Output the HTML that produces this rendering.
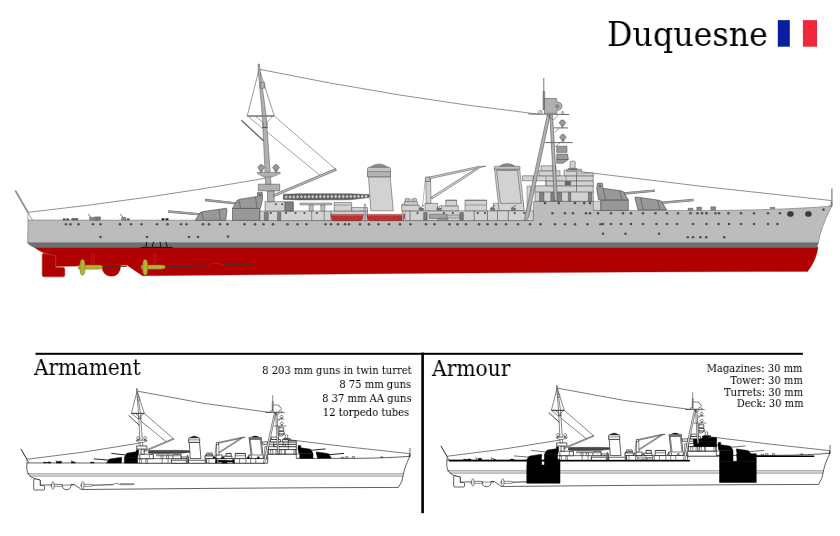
<!DOCTYPE html>
<html><head><meta charset="utf-8"><title>Duquesne</title>
<style>
html,body{margin:0;padding:0;background:#fff;}
body{width:840px;height:536px;position:relative;overflow:hidden;font-family:"DejaVu Serif","Liberation Serif",serif;color:#000;}
svg{position:absolute;left:0;top:0;}
.t{position:absolute;white-space:nowrap;line-height:1;will-change:transform;-webkit-font-smoothing:antialiased;}
.t{transform:scaleX(0.908);transform-origin:0 0;}
.r{transform-origin:100% 0;font-size:11px;}
#title{left:607px;top:16.9px;font-size:34px;transform:scaleX(0.933);}
#h1{left:33.9px;top:357.1px;font-size:22px;transform:scaleX(0.909);}
#h2{left:432px;top:358.4px;font-size:22px;transform:scaleX(0.92);}
</style></head><body>
<svg width="840" height="536" viewBox="0 0 840 536">
<rect width="840" height="536" fill="#fff"/>
<rect x="777.8" y="20.1" width="12" height="26.6" fill="#0a1ea0"/>
<rect x="802.9" y="20.1" width="14.1" height="26.6" fill="#f0283c"/>
<rect x="35.5" y="352.8" width="767.4" height="2" fill="#000"/>
<rect x="421.3" y="352.6" width="2.6" height="160.6" fill="#000"/>
<g><path d="M28.3 212.3 Q146.7 199.3 265 178.300" fill="none" stroke="#606060" stroke-width="0.70" stroke-linejoin="round"/>
<path d="M259.9 69.4 Q399 98 538.5 114.2" fill="none" stroke="#606060" stroke-width="0.70" stroke-linejoin="round"/>
<path d="M580.7 171.7 Q706.5 187.6 831.7 200.6" fill="none" stroke="#606060" stroke-width="0.70" stroke-linejoin="round"/>
<path d="M34 247 L818 247 Q816.5 260 807.6 271.4 L640 272 L400 273.5 L200 275.3 L142.5 275.8 L127 265.2 L120.8 265.2 Q120.3 276.2 111.2 276.2 Q102.2 276.2 101.7 265.6 L55.8 266.6 L55.8 256 L43 252.6 Q38 250.5 34 247 Z" fill="#b00000" stroke="#900000" stroke-width="0.30" stroke-linejoin="round"/>
<path d="M44.2 253.3 L55.8 255.8 L55.8 267.5 L63 267.5 Q64.8 267.5 64.8 269.3 L64.8 275 Q64.8 276.8 63 276.8 L44.2 276.8 Q42.2 276.8 42.2 274.8 L42.2 255.3 Q42.2 253.3 44.2 253.3 Z" fill="#b00000" stroke="#c86060" stroke-width="0.50" stroke-linejoin="round"/>
<path d="M44.2 253.3 L55.8 255.8 L55.8 267.5 L63 267.5 Q64.8 267.5 64.8 269.3 L64.8 275 Q64.8 276.8 63 276.8 L44.2 276.8 Q42.2 276.8 42.2 274.8 L42.2 255.3 Q42.2 253.3 44.2 253.3 Z" fill="none" stroke="#900000" stroke-width="0.30" stroke-linejoin="round"/>
<polygon points="91.6,254.0 94.4,254.0 94.4,265.5 91.6,265.5" fill="#b80808" stroke="#d04040" stroke-width="0.30" stroke-linejoin="round"/>
<polygon points="153.4,254.0 156.2,254.0 156.2,265.5 153.4,265.5" fill="#b80808" stroke="#d04040" stroke-width="0.30" stroke-linejoin="round"/>
<path d="M28 220 L527 220.5 Q533.3 219 533.3 212 L533.3 201.5 L594 201.5 L594 210.6 L720 210.4 Q790 209.6 831.9 206 Q820.5 228 818.3 243 L27.6 243 Z" fill="#bcbcbc" stroke="#444444" stroke-width="0.40" stroke-linejoin="round"/>
<path d="M27.5 242.8 L818.6 242.8 Q817.5 245 816.8 247.8 L36 247.8 Q29.5 246.5 27.500 242.8 Z" fill="#6c7070" stroke="#6c7070" stroke-width="0.20" stroke-linejoin="round"/>
<line x1="140.8" y1="247.4" x2="172.5" y2="247.4" stroke="#151515" stroke-width="1.00" stroke-linecap="butt"/>
<line x1="145.8" y1="247.0" x2="146.8" y2="241.8" stroke="#151515" stroke-width="1.00" stroke-linecap="butt"/>
<line x1="152.2" y1="247.0" x2="153.5" y2="241.8" stroke="#151515" stroke-width="1.00" stroke-linecap="butt"/>
<line x1="161.0" y1="247.0" x2="160.0" y2="241.8" stroke="#151515" stroke-width="1.00" stroke-linecap="butt"/>
<line x1="167.3" y1="247.0" x2="165.8" y2="241.8" stroke="#151515" stroke-width="1.00" stroke-linecap="butt"/>
<line x1="102.0" y1="266.6" x2="127.0" y2="266.3" stroke="#5a2528" stroke-width="1.00" stroke-linecap="butt"/>
<line x1="165.0" y1="266.8" x2="208.5" y2="265.6" stroke="#5a2528" stroke-width="1.60" stroke-linecap="butt"/>
<polygon points="224.0,263.6 250.0,263.6 253.5,264.6 250.0,265.6 224.0,265.8" fill="#5a2528" stroke="#5a2528" stroke-width="0.30" stroke-linejoin="round"/>
<path d="M208.5 265.6 q2 -2.5 7 -2.5 q5 0.5 8.500 2.500" fill="none" stroke="#d04040" stroke-width="0.40" stroke-linejoin="round"/>
<path d="M78.5 265 L98.5 264.9 L102.1 265.6 L102.7 266.9 L102.1 268.6 L98.5 269.2 L78.5 269.2 Z" fill="#b4b030" stroke="#6b6020" stroke-width="0.40" stroke-linejoin="round"/>
<path d="M82.5 259.3 q2.6 0.3 2.4 5.5 l0 4.500 q0.2 5.8 -2.4 6 q-2.600 -0.2 -2.4 -6 l0 -4.500 q-0.2 -5.200 2.4 -5.500 Z" fill="#b4b030" stroke="#6b6020" stroke-width="0.40" stroke-linejoin="round"/>
<path d="M141.2 265 L161.2 264.9 L164.8 265.6 L165.4 266.9 L164.8 268.6 L161.2 269.2 L141.2 269.2 Z" fill="#b4b030" stroke="#6b6020" stroke-width="0.40" stroke-linejoin="round"/>
<path d="M145.2 259.3 q2.6 0.3 2.4 5.5 l0 4.500 q0.2 5.8 -2.4 6 q-2.600 -0.2 -2.4 -6 l0 -4.500 q-0.2 -5.200 2.4 -5.500 Z" fill="#b4b030" stroke="#6b6020" stroke-width="0.40" stroke-linejoin="round"/>
<line x1="15.3" y1="190.5" x2="28.0" y2="212.5" stroke="#929292" stroke-width="1.80" stroke-linecap="butt"/>
<line x1="28.0" y1="212.5" x2="32.5" y2="220.0" stroke="#444444" stroke-width="0.50" stroke-linecap="butt"/>
<line x1="28.0" y1="212.5" x2="28.0" y2="220.0" stroke="#444444" stroke-width="0.50" stroke-linecap="butt"/>
<line x1="831.9" y1="188.4" x2="831.9" y2="206.0" stroke="#7a7a7a" stroke-width="1.20" stroke-linecap="butt"/>
<polygon points="831.7,201.5 829.6,206.0 831.9,206.0" fill="none" stroke="#444444" stroke-width="0.40" stroke-linejoin="round"/>
<ellipse cx="790.4" cy="214.0" rx="3.20" ry="2.70" fill="#3a3a3a" stroke="#444444" stroke-width="0.30"/>
<ellipse cx="808.4" cy="214.0" rx="3.20" ry="2.70" fill="#3a3a3a" stroke="#444444" stroke-width="0.30"/>
<polygon points="161.7,218.3 164.3,218.3 164.3,220.3 161.7,220.3" fill="#222" stroke="#444444" stroke-width="0.20" stroke-linejoin="round"/>
<polygon points="165.7,218.3 168.3,218.3 168.3,220.3 165.7,220.3" fill="#222" stroke="#444444" stroke-width="0.20" stroke-linejoin="round"/>
<polygon points="63.0,218.6 65.5,218.6 65.5,220.2 63.0,220.2" fill="#444" stroke="#444444" stroke-width="0.20" stroke-linejoin="round"/>
<polygon points="66.5,218.6 69.0,218.6 69.0,220.2 66.5,220.2" fill="#444" stroke="#444444" stroke-width="0.20" stroke-linejoin="round"/>
<polygon points="71.5,218.2 78.0,218.2 78.0,220.2 71.5,220.2" fill="#666" stroke="#444444" stroke-width="0.20" stroke-linejoin="round"/>
<line x1="88.0" y1="213.8" x2="91.5" y2="218.0" stroke="#666" stroke-width="0.90" stroke-linecap="butt"/>
<polygon points="89.5,217.3 94.0,217.3 94.0,220.2 89.5,220.2" fill="#888" stroke="#444444" stroke-width="0.30" stroke-linejoin="round"/>
<polygon points="95.0,218.5 97.5,218.5 97.5,220.2 95.0,220.2" fill="#555" stroke="#444444" stroke-width="0.20" stroke-linejoin="round"/>
<line x1="120.0" y1="213.8" x2="123.5" y2="218.0" stroke="#666" stroke-width="0.90" stroke-linecap="butt"/>
<polygon points="121.5,217.3 126.0,217.3 126.0,220.2 121.5,220.2" fill="#888" stroke="#444444" stroke-width="0.30" stroke-linejoin="round"/>
<polygon points="127.0,218.5 129.5,218.5 129.5,220.2 127.0,220.2" fill="#555" stroke="#444444" stroke-width="0.20" stroke-linejoin="round"/>
<polygon points="94.5,216.8 100.5,216.8 100.5,220.2 94.5,220.2" fill="#777" stroke="#444444" stroke-width="0.30" stroke-linejoin="round"/>
<line x1="168.3" y1="211.5" x2="201.0" y2="214.3" stroke="#6a6a6a" stroke-width="2.30" stroke-linecap="butt"/>
<line x1="168.6" y1="211.5" x2="201.0" y2="214.3" stroke="#a2a2a2" stroke-width="1.50" stroke-linecap="butt"/>
<polygon points="195.3,220.3 200.0,212.6 203.0,211.6 226.5,208.2 227.0,210.0 225.8,220.3" fill="#989898" stroke="#444444" stroke-width="0.60" stroke-linejoin="round"/>
<line x1="201.5" y1="212.2" x2="203.5" y2="220.0" stroke="#444444" stroke-width="0.50" stroke-linecap="butt"/>
<line x1="219.0" y1="209.5" x2="220.5" y2="220.0" stroke="#444444" stroke-width="0.50" stroke-linecap="butt"/>
<polygon points="232.5,208.4 260.0,208.4 260.0,220.4 232.5,220.4" fill="#989898" stroke="#444444" stroke-width="0.60" stroke-linejoin="round"/>
<line x1="205.0" y1="200.0" x2="238.5" y2="203.6" stroke="#6a6a6a" stroke-width="2.30" stroke-linecap="butt"/>
<line x1="205.3" y1="200.0" x2="238.5" y2="203.6" stroke="#a2a2a2" stroke-width="1.50" stroke-linecap="butt"/>
<polygon points="232.5,208.4 237.3,200.2 240.0,199.2 257.5,196.4 257.5,192.6 262.3,192.6 262.6,199.2 260.3,208.4" fill="#989898" stroke="#444444" stroke-width="0.60" stroke-linejoin="round"/>
<line x1="238.8" y1="199.8" x2="240.5" y2="208.0" stroke="#444444" stroke-width="0.50" stroke-linecap="butt"/>
<line x1="255.5" y1="197.0" x2="257.0" y2="208.0" stroke="#444444" stroke-width="0.50" stroke-linecap="butt"/>
<circle cx="260.0" cy="195.2" r="1.10" fill="#707070" stroke="#444444" stroke-width="0.30"/>
<polygon points="260.0,211.0 367.5,211.0 367.5,220.6 260.0,220.6" fill="#d2d2d2" stroke="#444444" stroke-width="0.50" stroke-linejoin="round"/>
<polygon points="265.0,201.7 293.3,201.7 293.3,211.0 265.0,211.0" fill="#d2d2d2" stroke="#444444" stroke-width="0.50" stroke-linejoin="round"/>
<polygon points="284.8,202.3 293.1,202.3 293.1,211.0 284.8,211.0" fill="#808080" stroke="#444444" stroke-width="0.50" stroke-linejoin="round"/>
<polygon points="264.2,212.3 268.3,212.3 268.3,220.4 264.2,220.4" fill="#808080" stroke="#444444" stroke-width="0.40" stroke-linejoin="round"/>
<polygon points="277.5,212.3 280.8,212.3 280.8,220.4 277.5,220.4" fill="#808080" stroke="#444444" stroke-width="0.40" stroke-linejoin="round"/>
<polygon points="267.5,190.8 274.2,190.8 274.2,201.7 267.5,201.7" fill="#b0b0b0" stroke="#444444" stroke-width="0.50" stroke-linejoin="round"/>
<polygon points="258.3,184.2 279.7,184.2 279.7,190.8 258.3,190.8" fill="#b0b0b0" stroke="#444444" stroke-width="0.50" stroke-linejoin="round"/>
<polygon points="300.0,203.0 331.7,203.0 331.7,205.0 300.0,205.0" fill="#bcbcbc" stroke="#444444" stroke-width="0.40" stroke-linejoin="round"/>
<polygon points="309.2,205.0 313.3,205.0 313.3,211.0 309.2,211.0" fill="#bcbcbc" stroke="#444444" stroke-width="0.40" stroke-linejoin="round"/>
<polygon points="320.8,205.0 325.0,205.0 325.0,211.0 320.8,211.0" fill="#bcbcbc" stroke="#444444" stroke-width="0.40" stroke-linejoin="round"/>
<polygon points="334.2,202.5 351.7,202.5 351.7,211.0 334.2,211.0" fill="#d2d2d2" stroke="#444444" stroke-width="0.50" stroke-linejoin="round"/>
<line x1="334.2" y1="205.0" x2="351.7" y2="205.0" stroke="#444444" stroke-width="0.40" stroke-linecap="butt"/>
<polygon points="351.7,207.5 367.5,207.5 367.5,211.0 351.7,211.0" fill="#d2d2d2" stroke="#444444" stroke-width="0.50" stroke-linejoin="round"/>
<line x1="311.7" y1="211.0" x2="311.7" y2="220.6" stroke="#444444" stroke-width="0.50" stroke-linecap="butt"/>
<line x1="324.2" y1="211.0" x2="324.2" y2="220.6" stroke="#444444" stroke-width="0.50" stroke-linecap="butt"/>
<line x1="331.0" y1="211.0" x2="331.0" y2="220.6" stroke="#444444" stroke-width="0.50" stroke-linecap="butt"/>
<line x1="274.3" y1="116.0" x2="335.8" y2="169.4" stroke="#444444" stroke-width="0.50" stroke-linecap="butt"/>
<line x1="248.7" y1="117.0" x2="320.3" y2="175.6" stroke="#444444" stroke-width="0.50" stroke-linecap="butt"/>
<polygon points="258.8,70.5 247.2,116.0 274.3,116.0 259.9,71.0" fill="none" stroke="#444444" stroke-width="0.55" stroke-linejoin="round"/>
<polygon points="258.0,64.0 259.3,64.0 260.0,70.0 266.2,116.0 271.0,184.2 265.6,184.2 262.3,116.0 258.2,70.0" fill="#b0b0b0" stroke="#444444" stroke-width="0.45" stroke-linejoin="round"/>
<polygon points="260.4,82.3 264.6,82.3 264.6,88.2 260.4,88.2" fill="#b0b0b0" stroke="#444444" stroke-width="0.45" stroke-linejoin="round"/>
<line x1="247.2" y1="116.0" x2="274.3" y2="116.0" stroke="#707070" stroke-width="1.20" stroke-linecap="butt"/>
<polyline points="256.0,116.6 262.6,122.0 263.5,127.5" fill="none" stroke="#444444" stroke-width="0.50" stroke-linejoin="round"/>
<polyline points="272.5,116.6 267.3,122.0 266.8,127.5" fill="none" stroke="#444444" stroke-width="0.50" stroke-linejoin="round"/>
<line x1="262.5" y1="127.5" x2="267.5" y2="127.5" stroke="#444444" stroke-width="0.80" stroke-linecap="butt"/>
<line x1="241.3" y1="120.2" x2="263.8" y2="141.0" stroke="#707070" stroke-width="1.50" stroke-linecap="butt"/>
<polygon points="257.3,172.3 280.2,172.3 280.2,173.6 272.0,177.0 264.0,177.0 257.3,173.6" fill="#b0b0b0" stroke="#444444" stroke-width="0.40" stroke-linejoin="round"/>
<polygon points="260.1,169.5 262.3,169.5 262.3,172.5 260.1,172.5" fill="#b0b0b0" stroke="#444444" stroke-width="0.40" stroke-linejoin="round"/>
<path d="M257.8 167.6 l2.2 -2.800 l2.400 0 l2.200 2.800 l-2.200 2.800 l-2.400 0 Z" fill="#9a9a9a" stroke="#444444" stroke-width="0.50" stroke-linejoin="round"/>
<polygon points="274.9,169.5 277.1,169.5 277.1,172.5 274.9,172.5" fill="#b0b0b0" stroke="#444444" stroke-width="0.40" stroke-linejoin="round"/>
<path d="M272.6 167.6 l2.2 -2.800 l2.400 0 l2.200 2.800 l-2.200 2.800 l-2.400 0 Z" fill="#9a9a9a" stroke="#444444" stroke-width="0.50" stroke-linejoin="round"/>
<polygon points="335.5,168.6 336.4,170.3 274.0,196.6 273.2,194.8" fill="#c4c4c4" stroke="#444444" stroke-width="0.60" stroke-linejoin="round"/>
<polygon points="283.3,194.2 300.0,193.7 350.0,193.7 369.2,194.6 369.2,197.6 350.0,199.8 300.0,200.0 283.3,199.4" fill="#606060" stroke="#444444" stroke-width="0.40" stroke-linejoin="round"/>
<path d="M284.6 196.9l1.600 -1.900l1.600 1.900l-1.600 1.900ZM288.4 196.9l1.600 -1.900l1.600 1.900l-1.600 1.900ZM292.2 196.9l1.600 -1.900l1.600 1.900l-1.600 1.900ZM296.0 196.8l1.600 -1.900l1.600 1.900l-1.600 1.900ZM299.8 196.8l1.600 -1.900l1.600 1.900l-1.600 1.900ZM303.6 196.8l1.600 -1.900l1.600 1.900l-1.600 1.900ZM307.4 196.7l1.600 -1.900l1.600 1.900l-1.600 1.900ZM311.2 196.7l1.600 -1.900l1.600 1.900l-1.600 1.900ZM315.0 196.7l1.600 -1.900l1.600 1.900l-1.600 1.900ZM318.8 196.6l1.600 -1.900l1.600 1.900l-1.600 1.900ZM322.6 196.6l1.600 -1.900l1.600 1.900l-1.600 1.900ZM326.4 196.6l1.600 -1.900l1.600 1.900l-1.600 1.900ZM330.2 196.5l1.600 -1.900l1.600 1.900l-1.600 1.900ZM334.0 196.5l1.600 -1.900l1.600 1.900l-1.600 1.900ZM337.8 196.5l1.600 -1.900l1.600 1.900l-1.600 1.900ZM341.6 196.5l1.600 -1.900l1.600 1.900l-1.600 1.900ZM345.4 196.4l1.600 -1.900l1.600 1.900l-1.600 1.900ZM349.2 196.4l1.600 -1.900l1.600 1.900l-1.600 1.900ZM353.0 196.4l1.600 -1.900l1.600 1.900l-1.600 1.900ZM356.8 196.3l1.600 -1.900l1.600 1.900l-1.600 1.900ZM360.6 196.3l1.600 -1.900l1.600 1.900l-1.600 1.900ZM364.4 196.3l1.600 -1.900l1.600 1.900l-1.600 1.900Z" fill="#c4c4c4" stroke="none"/>
<path d="M330.8 214.4 L363.3 214.4 L362.5 218.8 Q362.0 220.7 360.3 220.7 L333.3 220.7 Q331.6 220.6 330.8 214.4 Z" fill="#bc3030" stroke="#7a2020" stroke-width="0.50" stroke-linejoin="round"/>
<line x1="331.3" y1="215.0" x2="362.8" y2="215.0" stroke="#cfa0a0" stroke-width="0.60" stroke-linecap="butt"/>
<path d="M366.7 214.4 L405.0 214.4 L404.2 218.8 Q403.7 220.7 402.0 220.7 L369.2 220.7 Q367.5 220.6 366.7 214.4 Z" fill="#bc3030" stroke="#7a2020" stroke-width="0.50" stroke-linejoin="round"/>
<line x1="367.2" y1="215.0" x2="404.5" y2="215.0" stroke="#cfa0a0" stroke-width="0.60" stroke-linecap="butt"/>
<polygon points="364.1,204.0 365.5,204.0 365.5,220.6 364.1,220.6" fill="#bcbcbc" stroke="#444444" stroke-width="0.30" stroke-linejoin="round"/>
<polygon points="402.1,204.0 403.5,204.0 403.5,220.6 402.1,220.6" fill="#bcbcbc" stroke="#444444" stroke-width="0.30" stroke-linejoin="round"/>
<polygon points="368.5,176.7 390.2,176.7 393.3,210.8 370.8,210.8" fill="#d2d2d2" stroke="#444444" stroke-width="0.50" stroke-linejoin="round"/>
<path d="M369.5 167.5 Q379 160.3 388.5 167.500 Z" fill="#8c8c8c" stroke="#444444" stroke-width="0.40" stroke-linejoin="round"/>
<path d="M367.5 176.7 L367.5 168.5 Q367.6 167.3 369 167.3 L389 167.3 Q390.3 167.3 390.4 168.5 L390.4 176.7 Z" fill="#c4c4c4" stroke="#444444" stroke-width="0.50" stroke-linejoin="round"/>
<polygon points="367.5,171.6 390.4,171.6 390.4,176.7 367.5,176.7" fill="#b4b4b4" stroke="#444444" stroke-width="0.40" stroke-linejoin="round"/>
<polygon points="493.3,203.3 523.5,203.3 523.5,210.8 493.3,210.8" fill="#d2d2d2" stroke="#444444" stroke-width="0.50" stroke-linejoin="round"/>
<polygon points="494.5,169.2 519.7,169.2 524.2,210.8 499.2,210.8" fill="#d2d2d2" stroke="#444444" stroke-width="0.50" stroke-linejoin="round"/>
<polygon points="496.6,170.5 517.6,170.5 521.3,203.3 500.5,203.3" fill="none" stroke="#444444" stroke-width="0.50" stroke-linejoin="round"/>
<path d="M499 166.5 Q507 160.6 515.5 166.500 Z" fill="#8c8c8c" stroke="#444444" stroke-width="0.40" stroke-linejoin="round"/>
<path d="M494.2 169.2 L494.2 167 Q494.3 166.3 495.500 166.3 L519 166.3 Q520 166.3 520 167 L520 169.2 Z" fill="#c4c4c4" stroke="#444444" stroke-width="0.50" stroke-linejoin="round"/>
<polygon points="405.0,210.8 533.3,210.8 533.3,220.6 405.0,220.6" fill="#d2d2d2" stroke="#444444" stroke-width="0.50" stroke-linejoin="round"/>
<line x1="410.0" y1="210.8" x2="410.0" y2="220.6" stroke="#444444" stroke-width="0.60" stroke-linecap="butt"/>
<line x1="474.2" y1="210.8" x2="474.2" y2="220.6" stroke="#444444" stroke-width="0.60" stroke-linecap="butt"/>
<line x1="487.5" y1="210.8" x2="487.5" y2="220.6" stroke="#444444" stroke-width="0.60" stroke-linecap="butt"/>
<line x1="497.5" y1="210.8" x2="497.5" y2="220.6" stroke="#444444" stroke-width="0.60" stroke-linecap="butt"/>
<line x1="508.3" y1="210.8" x2="508.3" y2="220.6" stroke="#444444" stroke-width="0.60" stroke-linecap="butt"/>
<polygon points="429.4,214.2 447.0,214.2 447.0,218.4 429.4,218.4" fill="#a4a4a4" stroke="#444444" stroke-width="0.40" stroke-linejoin="round"/>
<polygon points="447.0,215.0 459.8,215.0 459.8,218.0 447.0,218.0" fill="#c4c4c4" stroke="#444444" stroke-width="0.40" stroke-linejoin="round"/>
<polygon points="423.6,212.6 427.2,212.6 427.2,220.0 423.6,220.0" fill="#7c7c7c" stroke="#444444" stroke-width="0.40" stroke-linejoin="round"/>
<polygon points="459.8,212.6 463.4,212.6 463.4,220.0 459.8,220.0" fill="#7c7c7c" stroke="#444444" stroke-width="0.40" stroke-linejoin="round"/>
<polygon points="437.7,218.4 448.0,218.4 448.0,220.5 437.7,220.5" fill="#999" stroke="#444444" stroke-width="0.30" stroke-linejoin="round"/>
<polygon points="401.7,205.0 419.2,205.0 419.2,210.8 401.7,210.8" fill="#d2d2d2" stroke="#444444" stroke-width="0.50" stroke-linejoin="round"/>
<polygon points="404.2,201.7 417.5,201.7 417.5,205.0 404.2,205.0" fill="#d2d2d2" stroke="#444444" stroke-width="0.50" stroke-linejoin="round"/>
<path d="M405.0 201.7 L405.0 199 Q407.5 197.3 410.0 199 L410.0 201.7 Z" fill="#bcbcbc" stroke="#444444" stroke-width="0.40" stroke-linejoin="round"/>
<path d="M411.7 201.7 L411.7 199 Q414.2 197.3 416.7 199 L416.7 201.7 Z" fill="#bcbcbc" stroke="#444444" stroke-width="0.40" stroke-linejoin="round"/>
<polygon points="425.0,203.3 437.5,203.3 437.5,210.8 425.0,210.8" fill="#d2d2d2" stroke="#444444" stroke-width="0.50" stroke-linejoin="round"/>
<polygon points="441.7,205.8 458.3,205.8 458.3,210.8 441.7,210.8" fill="#d2d2d2" stroke="#444444" stroke-width="0.50" stroke-linejoin="round"/>
<polygon points="445.8,200.0 456.7,200.0 456.7,205.8 445.8,205.8" fill="#d2d2d2" stroke="#444444" stroke-width="0.50" stroke-linejoin="round"/>
<line x1="445.8" y1="200.5" x2="456.7" y2="200.5" stroke="#777" stroke-width="0.90" stroke-linecap="butt"/>
<polygon points="465.0,200.0 486.7,200.0 486.7,210.8 465.0,210.8" fill="#d2d2d2" stroke="#444444" stroke-width="0.50" stroke-linejoin="round"/>
<line x1="465.0" y1="205.0" x2="486.7" y2="205.0" stroke="#444444" stroke-width="0.40" stroke-linecap="butt"/>
<line x1="465.0" y1="200.5" x2="486.7" y2="200.5" stroke="#777" stroke-width="0.90" stroke-linecap="butt"/>
<line x1="419.0" y1="208.5" x2="424.0" y2="205.3" stroke="#555" stroke-width="0.80" stroke-linecap="butt"/>
<polygon points="419.5,208.0 423.5,208.0 423.5,210.6 419.5,210.6" fill="#777" stroke="#444444" stroke-width="0.30" stroke-linejoin="round"/>
<line x1="436.5" y1="208.5" x2="441.5" y2="205.3" stroke="#555" stroke-width="0.80" stroke-linecap="butt"/>
<polygon points="437.0,208.0 441.0,208.0 441.0,210.6 437.0,210.6" fill="#777" stroke="#444444" stroke-width="0.30" stroke-linejoin="round"/>
<line x1="490.0" y1="208.5" x2="495.0" y2="205.3" stroke="#555" stroke-width="0.80" stroke-linecap="butt"/>
<polygon points="490.5,208.0 494.5,208.0 494.5,210.6 490.5,210.6" fill="#777" stroke="#444444" stroke-width="0.30" stroke-linejoin="round"/>
<line x1="511.0" y1="208.5" x2="516.0" y2="205.3" stroke="#555" stroke-width="0.80" stroke-linecap="butt"/>
<polygon points="511.5,208.0 515.5,208.0 515.5,210.6 511.5,210.6" fill="#777" stroke="#444444" stroke-width="0.30" stroke-linejoin="round"/>
<polygon points="425.8,179.5 430.6,179.5 431.0,203.3 426.2,203.3" fill="#d2d2d2" stroke="#444444" stroke-width="0.50" stroke-linejoin="round"/>
<polygon points="426.5,177.6 470.0,168.3 478.0,166.4 485.8,166.2 478.3,168.0 470.5,169.9 427.0,179.3" fill="#d2d2d2" stroke="#444444" stroke-width="0.50" stroke-linejoin="round"/>
<polygon points="431.0,197.2 477.5,167.5 478.6,168.8 432.0,199.0" fill="#d2d2d2" stroke="#444444" stroke-width="0.50" stroke-linejoin="round"/>
<polygon points="425.4,177.0 430.0,177.0 430.0,181.5 425.4,181.5" fill="#bcbcbc" stroke="#444444" stroke-width="0.50" stroke-linejoin="round"/>
<line x1="425.2" y1="181.0" x2="422.5" y2="206.0" stroke="#444444" stroke-width="0.40" stroke-linecap="butt"/>
<polygon points="593.3,201.3 600.8,201.3 600.8,210.4 593.3,210.4" fill="#d2d2d2" stroke="#444444" stroke-width="0.40" stroke-linejoin="round"/>
<polygon points="535.0,191.7 593.3,191.7 593.3,201.3 535.0,201.3" fill="#d2d2d2" stroke="#444444" stroke-width="0.50" stroke-linejoin="round"/>
<polygon points="539.5,192.5 544.0,192.5 544.0,201.3 539.5,201.3" fill="#808080" stroke="#444444" stroke-width="0.40" stroke-linejoin="round"/>
<polygon points="550.8,192.5 555.0,192.5 555.0,201.3 550.8,201.3" fill="#808080" stroke="#444444" stroke-width="0.40" stroke-linejoin="round"/>
<polygon points="557.5,192.5 561.7,192.5 561.7,201.3 557.5,201.3" fill="#808080" stroke="#444444" stroke-width="0.40" stroke-linejoin="round"/>
<polygon points="568.3,192.5 570.8,192.5 570.8,201.3 568.3,201.3" fill="#808080" stroke="#444444" stroke-width="0.40" stroke-linejoin="round"/>
<polygon points="588.3,192.5 591.7,192.5 591.7,201.3 588.3,201.3" fill="#808080" stroke="#444444" stroke-width="0.40" stroke-linejoin="round"/>
<polygon points="535.0,185.8 593.3,185.8 593.3,191.9 535.0,191.9" fill="#d2d2d2" stroke="#444444" stroke-width="0.50" stroke-linejoin="round"/>
<polygon points="545.8,180.8 593.3,180.8 593.3,185.8 545.8,185.8" fill="#d2d2d2" stroke="#444444" stroke-width="0.50" stroke-linejoin="round"/>
<polygon points="565.0,181.5 570.8,181.5 570.8,185.0 565.0,185.0" fill="#666" stroke="#444444" stroke-width="0.30" stroke-linejoin="round"/>
<polygon points="522.5,175.8 593.3,175.8 593.3,180.8 522.5,180.8" fill="#d2d2d2" stroke="#444444" stroke-width="0.50" stroke-linejoin="round"/>
<line x1="533.3" y1="175.8" x2="533.3" y2="180.8" stroke="#444444" stroke-width="0.40" stroke-linecap="butt"/>
<line x1="546.0" y1="175.8" x2="546.0" y2="185.8" stroke="#444444" stroke-width="0.40" stroke-linecap="butt"/>
<line x1="566.0" y1="175.8" x2="566.0" y2="180.8" stroke="#444444" stroke-width="0.40" stroke-linecap="butt"/>
<line x1="576.5" y1="175.8" x2="576.5" y2="191.7" stroke="#444444" stroke-width="0.60" stroke-linecap="butt"/>
<polygon points="576.5,173.0 593.3,173.0 593.3,175.8 576.5,175.8" fill="#d2d2d2" stroke="#444444" stroke-width="0.50" stroke-linejoin="round"/>
<polygon points="564.0,170.3 576.7,170.3 576.7,175.8 564.0,175.8" fill="#d2d2d2" stroke="#444444" stroke-width="0.50" stroke-linejoin="round"/>
<polygon points="539.0,170.8 560.0,170.8 560.0,175.8 539.0,175.8" fill="#d2d2d2" stroke="#444444" stroke-width="0.50" stroke-linejoin="round"/>
<polygon points="541.0,165.8 556.0,165.8 556.0,170.8 541.0,170.8" fill="#d2d2d2" stroke="#444444" stroke-width="0.50" stroke-linejoin="round"/>
<polygon points="566.7,169.3 581.5,169.3 581.5,171.3 566.7,171.3" fill="#bcbcbc" stroke="#444444" stroke-width="0.50" stroke-linejoin="round"/>
<polygon points="568.5,168.3 577.0,168.3 577.0,169.8 568.5,169.8" fill="#777" stroke="#444444" stroke-width="0.30" stroke-linejoin="round"/>
<path d="M570.2 168.3 L570 162.3 Q570 161.2 571.2 161.2 L574.2 161.2 Q575.4 161.2 575.3 162.3 L575 168.3 Z" fill="#d2d2d2" stroke="#444444" stroke-width="0.50" stroke-linejoin="round"/>
<polygon points="527.0,186.0 531.0,186.0 531.0,210.0 527.0,210.0" fill="#d2d2d2" stroke="#444444" stroke-width="0.40" stroke-linejoin="round"/>
<polygon points="556.7,146.2 567.0,146.2 567.0,152.4 556.7,152.4" fill="#9a9a9a" stroke="#444444" stroke-width="0.50" stroke-linejoin="round"/>
<polygon points="556.7,154.1 567.6,154.1 568.3,159.5 556.7,159.5" fill="#9a9a9a" stroke="#444444" stroke-width="0.50" stroke-linejoin="round"/>
<polygon points="556.7,159.5 568.3,159.5 563.0,163.3 556.7,163.3" fill="#9a9a9a" stroke="#444444" stroke-width="0.50" stroke-linejoin="round"/>
<polygon points="547.2,115.2 550.0,115.2 528.8,216.5 526.3,220.4 524.2,220.4" fill="#b0b0b0" stroke="#444444" stroke-width="0.50" stroke-linejoin="round"/>
<polygon points="549.8,115.2 552.6,115.2 557.5,200.5 554.3,200.5" fill="#b0b0b0" stroke="#444444" stroke-width="0.50" stroke-linejoin="round"/>
<line x1="545.2" y1="142.6" x2="572.6" y2="142.6" stroke="#666" stroke-width="1.00" stroke-linecap="butt"/>
<line x1="554.0" y1="127.9" x2="568.2" y2="127.9" stroke="#666" stroke-width="1.00" stroke-linecap="butt"/>
<line x1="554.5" y1="132.5" x2="559.5" y2="128.2" stroke="#444444" stroke-width="0.50" stroke-linecap="butt"/>
<line x1="555.0" y1="147.0" x2="560.0" y2="142.8" stroke="#444444" stroke-width="0.50" stroke-linecap="butt"/>
<polygon points="561.4,125.3 563.4,125.3 563.4,127.8 561.4,127.8" fill="#b0b0b0" stroke="#444444" stroke-width="0.30" stroke-linejoin="round"/>
<path d="M559.1 122.8 l2.2 -2.800 l2.200 0 l2.200 2.800 l-2.200 2.800 l-2.200 0 Z" fill="#9a9a9a" stroke="#444444" stroke-width="0.50" stroke-linejoin="round"/>
<polygon points="561.9,139.7 563.9,139.7 563.9,142.2 561.9,142.2" fill="#b0b0b0" stroke="#444444" stroke-width="0.30" stroke-linejoin="round"/>
<path d="M559.6 137.2 l2.2 -2.800 l2.200 0 l2.200 2.800 l-2.200 2.800 l-2.200 0 Z" fill="#9a9a9a" stroke="#444444" stroke-width="0.50" stroke-linejoin="round"/>
<line x1="528.3" y1="114.0" x2="569.1" y2="114.5" stroke="#666" stroke-width="1.10" stroke-linecap="butt"/>
<line x1="547.0" y1="115.0" x2="553.0" y2="120.0" stroke="#444444" stroke-width="0.50" stroke-linecap="butt"/>
<line x1="558.0" y1="115.0" x2="553.5" y2="120.0" stroke="#444444" stroke-width="0.50" stroke-linecap="butt"/>
<circle cx="540.4" cy="112.2" r="1.90" fill="#d2d2d2" stroke="#444444" stroke-width="0.40"/>
<circle cx="562.6" cy="112.6" r="1.20" fill="#d2d2d2" stroke="#444444" stroke-width="0.40"/>
<line x1="543.8" y1="78.0" x2="543.8" y2="92.0" stroke="#666" stroke-width="0.90" stroke-linecap="butt"/>
<polygon points="542.9,91.5 544.8,91.5 544.8,110.0 542.9,110.0" fill="#888" stroke="#444444" stroke-width="0.30" stroke-linejoin="round"/>
<path d="M544.5 98.3 L556.5 98.6 L557 101.7 Q562 102.5 562 106 Q561.8 110 557 110.5 L556.8 113.400 L544.5 113.400 Z" fill="#b0b0b0" stroke="#444444" stroke-width="0.50" stroke-linejoin="round"/>
<circle cx="557.2" cy="106.3" r="1.60" fill="#999" stroke="#444444" stroke-width="0.40"/>
<polygon points="600.8,200.0 628.3,200.0 628.3,210.4 600.8,210.4" fill="#989898" stroke="#444444" stroke-width="0.60" stroke-linejoin="round"/>
<line x1="624.0" y1="193.5" x2="654.8" y2="190.6" stroke="#6a6a6a" stroke-width="2.30" stroke-linecap="butt"/>
<line x1="624.3" y1="193.5" x2="654.8" y2="190.6" stroke="#a2a2a2" stroke-width="1.50" stroke-linecap="butt"/>
<polygon points="597.5,183.3 602.5,183.3 602.8,188.3 621.0,190.8 623.5,191.8 628.3,199.8 598.5,199.8 596.7,189.0" fill="#989898" stroke="#444444" stroke-width="0.60" stroke-linejoin="round"/>
<line x1="603.0" y1="189.0" x2="605.5" y2="199.5" stroke="#444444" stroke-width="0.50" stroke-linecap="butt"/>
<line x1="619.5" y1="190.8" x2="622.0" y2="199.5" stroke="#444444" stroke-width="0.50" stroke-linecap="butt"/>
<circle cx="600.0" cy="186.0" r="1.10" fill="#707070" stroke="#444444" stroke-width="0.30"/>
<line x1="660.0" y1="202.9" x2="693.5" y2="200.0" stroke="#6a6a6a" stroke-width="2.30" stroke-linecap="butt"/>
<line x1="660.3" y1="202.9" x2="693.5" y2="200.0" stroke="#a2a2a2" stroke-width="1.50" stroke-linecap="butt"/>
<polygon points="635.0,197.3 636.5,197.0 659.0,200.3 661.5,201.3 666.7,210.0 638.0,210.0 635.2,199.0" fill="#989898" stroke="#444444" stroke-width="0.60" stroke-linejoin="round"/>
<line x1="640.5" y1="198.0" x2="643.0" y2="209.7" stroke="#444444" stroke-width="0.50" stroke-linecap="butt"/>
<line x1="657.5" y1="200.5" x2="660.0" y2="209.7" stroke="#444444" stroke-width="0.50" stroke-linecap="butt"/>
<polygon points="688.0,208.2 693.0,208.2 693.0,210.3 688.0,210.3" fill="#888" stroke="#444444" stroke-width="0.30" stroke-linejoin="round"/>
<polygon points="696.7,207.0 701.7,207.0 701.7,210.3 696.7,210.3" fill="#888" stroke="#444444" stroke-width="0.30" stroke-linejoin="round"/>
<polygon points="710.7,206.7 715.7,206.7 715.7,210.3 710.7,210.3" fill="#888" stroke="#444444" stroke-width="0.30" stroke-linejoin="round"/>
<polygon points="770.0,207.3 775.0,207.3 775.0,208.6 770.0,208.6" fill="#666" stroke="#444444" stroke-width="0.20" stroke-linejoin="round"/>
<circle cx="66.0" cy="224.2" r="1.30" fill="#505050"/>
<circle cx="70.5" cy="224.2" r="1.30" fill="#505050"/>
<circle cx="78.5" cy="224.2" r="1.30" fill="#505050"/>
<circle cx="93.0" cy="224.2" r="1.30" fill="#505050"/>
<circle cx="100.5" cy="224.2" r="1.30" fill="#505050"/>
<circle cx="120.0" cy="224.2" r="1.30" fill="#505050"/>
<circle cx="131.0" cy="224.2" r="1.30" fill="#505050"/>
<circle cx="141.5" cy="224.2" r="1.30" fill="#505050"/>
<circle cx="157.0" cy="224.2" r="1.30" fill="#505050"/>
<circle cx="167.5" cy="224.2" r="1.30" fill="#505050"/>
<circle cx="181.0" cy="224.2" r="1.30" fill="#505050"/>
<circle cx="186.5" cy="224.2" r="1.30" fill="#505050"/>
<circle cx="203.0" cy="224.2" r="1.30" fill="#505050"/>
<circle cx="100.5" cy="237.0" r="1.30" fill="#505050"/>
<circle cx="147.0" cy="237.0" r="1.30" fill="#505050"/>
<circle cx="189.0" cy="237.0" r="1.30" fill="#505050"/>
<circle cx="198.0" cy="237.0" r="1.30" fill="#505050"/>
<circle cx="209.0" cy="224.2" r="1.30" fill="#505050"/>
<circle cx="220.0" cy="224.2" r="1.30" fill="#505050"/>
<circle cx="227.5" cy="224.2" r="1.30" fill="#505050"/>
<circle cx="244.5" cy="224.2" r="1.30" fill="#505050"/>
<circle cx="255.0" cy="224.2" r="1.30" fill="#505050"/>
<circle cx="263.5" cy="224.2" r="1.30" fill="#505050"/>
<circle cx="273.0" cy="224.2" r="1.30" fill="#505050"/>
<circle cx="287.5" cy="224.2" r="1.30" fill="#505050"/>
<circle cx="297.5" cy="224.2" r="1.30" fill="#505050"/>
<circle cx="306.5" cy="224.2" r="1.30" fill="#505050"/>
<circle cx="325.5" cy="224.2" r="1.30" fill="#505050"/>
<circle cx="331.0" cy="224.2" r="1.30" fill="#505050"/>
<circle cx="338.0" cy="224.2" r="1.30" fill="#505050"/>
<circle cx="345.0" cy="224.2" r="1.30" fill="#505050"/>
<circle cx="349.0" cy="224.2" r="1.30" fill="#505050"/>
<circle cx="360.0" cy="224.2" r="1.30" fill="#505050"/>
<circle cx="369.0" cy="224.2" r="1.30" fill="#505050"/>
<circle cx="378.5" cy="224.2" r="1.30" fill="#505050"/>
<circle cx="389.0" cy="224.2" r="1.30" fill="#505050"/>
<circle cx="400.0" cy="224.2" r="1.30" fill="#505050"/>
<circle cx="228.0" cy="236.5" r="1.30" fill="#505050"/>
<circle cx="410.5" cy="224.2" r="1.30" fill="#505050"/>
<circle cx="426.0" cy="224.2" r="1.30" fill="#505050"/>
<circle cx="434.5" cy="224.2" r="1.30" fill="#505050"/>
<circle cx="449.5" cy="224.2" r="1.30" fill="#505050"/>
<circle cx="457.5" cy="224.2" r="1.30" fill="#505050"/>
<circle cx="466.0" cy="224.2" r="1.30" fill="#505050"/>
<circle cx="479.0" cy="224.2" r="1.30" fill="#505050"/>
<circle cx="487.5" cy="224.2" r="1.30" fill="#505050"/>
<circle cx="496.0" cy="224.2" r="1.30" fill="#505050"/>
<circle cx="506.0" cy="224.2" r="1.30" fill="#505050"/>
<circle cx="518.0" cy="224.2" r="1.30" fill="#505050"/>
<circle cx="530.0" cy="224.2" r="1.30" fill="#505050"/>
<circle cx="540.5" cy="224.2" r="1.30" fill="#505050"/>
<circle cx="555.0" cy="224.2" r="1.30" fill="#505050"/>
<circle cx="565.0" cy="224.2" r="1.30" fill="#505050"/>
<circle cx="575.0" cy="224.2" r="1.30" fill="#505050"/>
<circle cx="587.5" cy="224.2" r="1.30" fill="#505050"/>
<circle cx="600.5" cy="224.2" r="1.30" fill="#505050"/>
<circle cx="545.0" cy="203.1" r="1.30" fill="#505050"/>
<circle cx="558.8" cy="203.1" r="1.30" fill="#505050"/>
<circle cx="575.0" cy="203.1" r="1.30" fill="#505050"/>
<circle cx="584.2" cy="203.1" r="1.30" fill="#505050"/>
<circle cx="590.0" cy="203.1" r="1.30" fill="#505050"/>
<circle cx="417.5" cy="213.1" r="1.10" fill="#505050"/>
<circle cx="443.8" cy="213.1" r="1.10" fill="#505050"/>
<circle cx="452.8" cy="213.1" r="1.10" fill="#505050"/>
<circle cx="477.8" cy="213.1" r="1.10" fill="#505050"/>
<circle cx="485.0" cy="213.1" r="1.10" fill="#505050"/>
<circle cx="514.7" cy="213.1" r="1.10" fill="#505050"/>
<circle cx="524.2" cy="213.1" r="1.10" fill="#505050"/>
<circle cx="270.8" cy="213.0" r="1.10" fill="#505050"/>
<circle cx="286.0" cy="213.0" r="1.10" fill="#505050"/>
<circle cx="295.5" cy="213.0" r="1.10" fill="#505050"/>
<circle cx="304.4" cy="213.0" r="1.10" fill="#505050"/>
<circle cx="316.9" cy="213.0" r="1.10" fill="#505050"/>
<circle cx="275.8" cy="204.2" r="1.00" fill="#505050"/>
<circle cx="282.2" cy="204.2" r="1.00" fill="#505050"/>
<circle cx="552.5" cy="213.3" r="1.30" fill="#505050"/>
<circle cx="565.0" cy="213.3" r="1.30" fill="#505050"/>
<circle cx="573.0" cy="213.3" r="1.30" fill="#505050"/>
<circle cx="586.0" cy="213.3" r="1.30" fill="#505050"/>
<circle cx="590.0" cy="213.3" r="1.30" fill="#505050"/>
<circle cx="598.0" cy="213.3" r="1.30" fill="#505050"/>
<circle cx="611.0" cy="213.3" r="1.30" fill="#505050"/>
<circle cx="623.0" cy="213.3" r="1.30" fill="#505050"/>
<circle cx="631.0" cy="213.3" r="1.30" fill="#505050"/>
<circle cx="643.0" cy="213.3" r="1.30" fill="#505050"/>
<circle cx="655.5" cy="213.3" r="1.30" fill="#505050"/>
<circle cx="667.0" cy="213.3" r="1.30" fill="#505050"/>
<circle cx="678.0" cy="213.3" r="1.30" fill="#505050"/>
<circle cx="690.5" cy="213.3" r="1.30" fill="#505050"/>
<circle cx="697.5" cy="213.3" r="1.30" fill="#505050"/>
<circle cx="702.0" cy="213.3" r="1.30" fill="#505050"/>
<circle cx="706.5" cy="213.3" r="1.30" fill="#505050"/>
<circle cx="715.5" cy="213.3" r="1.30" fill="#505050"/>
<circle cx="719.0" cy="213.3" r="1.30" fill="#505050"/>
<circle cx="728.5" cy="213.3" r="1.30" fill="#505050"/>
<circle cx="741.0" cy="213.3" r="1.30" fill="#505050"/>
<circle cx="754.0" cy="213.3" r="1.30" fill="#505050"/>
<circle cx="768.0" cy="213.3" r="1.30" fill="#505050"/>
<circle cx="780.0" cy="213.3" r="1.30" fill="#505050"/>
<circle cx="603.0" cy="224.0" r="1.30" fill="#505050"/>
<circle cx="611.0" cy="224.0" r="1.30" fill="#505050"/>
<circle cx="621.0" cy="224.0" r="1.30" fill="#505050"/>
<circle cx="631.0" cy="224.0" r="1.30" fill="#505050"/>
<circle cx="643.0" cy="224.0" r="1.30" fill="#505050"/>
<circle cx="656.5" cy="224.0" r="1.30" fill="#505050"/>
<circle cx="667.0" cy="224.0" r="1.30" fill="#505050"/>
<circle cx="677.0" cy="224.0" r="1.30" fill="#505050"/>
<circle cx="693.0" cy="224.0" r="1.30" fill="#505050"/>
<circle cx="706.5" cy="224.0" r="1.30" fill="#505050"/>
<circle cx="718.5" cy="224.0" r="1.30" fill="#505050"/>
<circle cx="729.0" cy="224.0" r="1.30" fill="#505050"/>
<circle cx="741.0" cy="224.0" r="1.30" fill="#505050"/>
<circle cx="754.0" cy="224.0" r="1.30" fill="#505050"/>
<circle cx="768.0" cy="224.0" r="1.30" fill="#505050"/>
<circle cx="777.5" cy="224.0" r="1.30" fill="#505050"/>
<circle cx="603.0" cy="233.8" r="1.30" fill="#505050"/>
<circle cx="625.5" cy="233.8" r="1.30" fill="#505050"/>
<circle cx="659.0" cy="233.8" r="1.30" fill="#505050"/>
<circle cx="687.8" cy="237.2" r="1.30" fill="#505050"/>
<circle cx="693.0" cy="237.2" r="1.30" fill="#505050"/>
<circle cx="700.3" cy="237.2" r="1.30" fill="#505050"/>
<circle cx="706.2" cy="237.2" r="1.30" fill="#505050"/>
<circle cx="724.2" cy="237.2" r="1.30" fill="#505050"/>
<circle cx="823.5" cy="209.6" r="1.30" fill="#505050"/></g>
<g transform="translate(13.6 358.1) scale(0.4765)"><path d="M28.3 212.3 Q146.7 199.3 265 178.300" fill="none" stroke="#000" stroke-width="1.10" stroke-linejoin="round"/>
<path d="M259.9 69.4 Q399 98 538.5 114.2" fill="none" stroke="#000" stroke-width="1.10" stroke-linejoin="round"/>
<path d="M580.7 171.7 Q706.5 187.6 831.7 200.6" fill="none" stroke="#000" stroke-width="1.10" stroke-linejoin="round"/>
<path d="M28 220 L527 220.5 Q533.3 219 533.3 212 L533.3 201.5 L594 201.5 L594 210.6 L720 210.4 Q790 209.6 831.9 206 Q820.5 228 818.3 243 Q816.5 260 807.6 271.4 L640 272 L400 273.5 L200 275.3 L142.5 275.8 L127 265.2 L120.8 265.2 Q120.3 276.2 111.2 276.2 Q102.2 276.2 101.7 265.6 L55.8 266.6 L55.8 256 L43 252.6 Q38 250.5 34 247 Q28 240 27.5 232 Z" fill="#fff" stroke="#000" stroke-width="1.30" stroke-linejoin="round"/>
<line x1="27.6" y1="243.0" x2="818.5" y2="243.0" stroke="#000" stroke-width="1.00" stroke-linecap="butt"/>
<line x1="34.0" y1="247.5" x2="817.0" y2="247.5" stroke="#000" stroke-width="1.00" stroke-linecap="butt"/>
<path d="M44.2 253.3 L55.8 255.8 L55.8 267.5 L63 267.5 Q64.8 267.5 64.8 269.3 L64.8 275 Q64.8 276.8 63 276.8 L44.2 276.8 Q42.2 276.8 42.2 274.8 L42.2 255.3 Q42.2 253.3 44.2 253.3 Z" fill="#fff" stroke="#000" stroke-width="1.30" stroke-linejoin="round"/>
<line x1="102.0" y1="266.6" x2="127.0" y2="266.3" stroke="#000" stroke-width="1.00" stroke-linecap="butt"/>
<line x1="165.0" y1="266.8" x2="208.5" y2="265.6" stroke="#000" stroke-width="1.60" stroke-linecap="butt"/>
<polygon points="224.0,263.6 250.0,263.6 253.5,264.6 250.0,265.6 224.0,265.8" fill="#fff" stroke="#000" stroke-width="1.00" stroke-linejoin="round"/>
<path d="M208.5 265.6 q2 -2.5 7 -2.5 q5 0.5 8.500 2.500" fill="none" stroke="#000" stroke-width="1.00" stroke-linejoin="round"/>
<path d="M78.5 265 L98.5 264.9 L102.1 265.6 L102.7 266.9 L102.1 268.6 L98.5 269.2 L78.5 269.2 Z" fill="#fff" stroke="#000" stroke-width="1.00" stroke-linejoin="round"/>
<path d="M82.5 259.3 q2.6 0.3 2.4 5.5 l0 4.500 q0.2 5.8 -2.4 6 q-2.600 -0.2 -2.4 -6 l0 -4.500 q-0.2 -5.200 2.4 -5.500 Z" fill="#fff" stroke="#000" stroke-width="1.00" stroke-linejoin="round"/>
<path d="M141.2 265 L161.2 264.9 L164.8 265.6 L165.4 266.9 L164.8 268.6 L161.2 269.2 L141.2 269.2 Z" fill="#fff" stroke="#000" stroke-width="1.00" stroke-linejoin="round"/>
<path d="M145.2 259.3 q2.6 0.3 2.4 5.5 l0 4.500 q0.2 5.8 -2.4 6 q-2.600 -0.2 -2.4 -6 l0 -4.500 q-0.2 -5.200 2.4 -5.500 Z" fill="#fff" stroke="#000" stroke-width="1.00" stroke-linejoin="round"/>
<line x1="15.3" y1="190.5" x2="28.0" y2="212.5" stroke="#000" stroke-width="1.80" stroke-linecap="butt"/>
<line x1="28.0" y1="212.5" x2="32.5" y2="220.0" stroke="#000" stroke-width="1.00" stroke-linecap="butt"/>
<line x1="28.0" y1="212.5" x2="28.0" y2="220.0" stroke="#000" stroke-width="1.00" stroke-linecap="butt"/>
<line x1="831.9" y1="188.4" x2="831.9" y2="206.0" stroke="#000" stroke-width="1.20" stroke-linecap="butt"/>
<polygon points="831.7,201.5 829.6,206.0 831.9,206.0" fill="none" stroke="#000" stroke-width="1.00" stroke-linejoin="round"/>
<polygon points="161.7,218.3 164.3,218.3 164.3,220.3 161.7,220.3" fill="#000" stroke="#000" stroke-width="1.00" stroke-linejoin="round"/>
<polygon points="165.7,218.3 168.3,218.3 168.3,220.3 165.7,220.3" fill="#000" stroke="#000" stroke-width="1.00" stroke-linejoin="round"/>
<polygon points="63.0,218.6 65.5,218.6 65.5,220.2 63.0,220.2" fill="#000" stroke="#000" stroke-width="1.00" stroke-linejoin="round"/>
<polygon points="66.5,218.6 69.0,218.6 69.0,220.2 66.5,220.2" fill="#000" stroke="#000" stroke-width="1.00" stroke-linejoin="round"/>
<polygon points="71.5,218.2 78.0,218.2 78.0,220.2 71.5,220.2" fill="#000" stroke="#000" stroke-width="1.00" stroke-linejoin="round"/>
<line x1="88.0" y1="213.8" x2="91.5" y2="218.0" stroke="#000" stroke-width="1.00" stroke-linecap="butt"/>
<polygon points="89.5,217.3 94.0,217.3 94.0,220.2 89.5,220.2" fill="#000" stroke="#000" stroke-width="1.00" stroke-linejoin="round"/>
<polygon points="95.0,218.5 97.5,218.5 97.5,220.2 95.0,220.2" fill="#000" stroke="#000" stroke-width="1.00" stroke-linejoin="round"/>
<line x1="120.0" y1="213.8" x2="123.5" y2="218.0" stroke="#000" stroke-width="1.00" stroke-linecap="butt"/>
<polygon points="121.5,217.3 126.0,217.3 126.0,220.2 121.5,220.2" fill="#000" stroke="#000" stroke-width="1.00" stroke-linejoin="round"/>
<polygon points="127.0,218.5 129.5,218.5 129.5,220.2 127.0,220.2" fill="#000" stroke="#000" stroke-width="1.00" stroke-linejoin="round"/>
<polygon points="94.5,216.8 100.5,216.8 100.5,220.2 94.5,220.2" fill="#000" stroke="#000" stroke-width="1.00" stroke-linejoin="round"/>
<line x1="168.3" y1="211.5" x2="201.0" y2="214.3" stroke="#000" stroke-width="1.80" stroke-linecap="butt"/>
<polygon points="195.3,220.3 200.0,212.6 203.0,211.6 226.5,208.2 227.0,210.0 225.8,220.3" fill="#000" stroke="#000" stroke-width="1.00" stroke-linejoin="round"/>
<polygon points="232.5,208.4 260.0,208.4 260.0,220.4 232.5,220.4" fill="#000" stroke="#000" stroke-width="1.00" stroke-linejoin="round"/>
<line x1="205.0" y1="200.0" x2="238.5" y2="203.6" stroke="#000" stroke-width="1.80" stroke-linecap="butt"/>
<polygon points="232.5,208.4 237.3,200.2 240.0,199.2 257.5,196.4 257.5,192.6 262.3,192.6 262.6,199.2 260.3,208.4" fill="#000" stroke="#000" stroke-width="1.00" stroke-linejoin="round"/>
<polygon points="260.0,211.0 367.5,211.0 367.5,220.6 260.0,220.6" fill="#fff" stroke="#000" stroke-width="1.30" stroke-linejoin="round"/>
<polygon points="265.0,201.7 293.3,201.7 293.3,211.0 265.0,211.0" fill="#fff" stroke="#000" stroke-width="1.30" stroke-linejoin="round"/>
<polygon points="284.8,202.3 293.1,202.3 293.1,211.0 284.8,211.0" fill="#fff" stroke="#000" stroke-width="1.00" stroke-linejoin="round"/>
<polygon points="264.2,212.3 268.3,212.3 268.3,220.4 264.2,220.4" fill="#fff" stroke="#000" stroke-width="1.00" stroke-linejoin="round"/>
<polygon points="277.5,212.3 280.8,212.3 280.8,220.4 277.5,220.4" fill="#fff" stroke="#000" stroke-width="1.00" stroke-linejoin="round"/>
<polygon points="267.5,190.8 274.2,190.8 274.2,201.7 267.5,201.7" fill="#fff" stroke="#000" stroke-width="1.30" stroke-linejoin="round"/>
<polygon points="258.3,184.2 279.7,184.2 279.7,190.8 258.3,190.8" fill="#fff" stroke="#000" stroke-width="1.30" stroke-linejoin="round"/>
<polygon points="300.0,203.0 331.7,203.0 331.7,205.0 300.0,205.0" fill="#fff" stroke="#000" stroke-width="1.00" stroke-linejoin="round"/>
<polygon points="309.2,205.0 313.3,205.0 313.3,211.0 309.2,211.0" fill="#fff" stroke="#000" stroke-width="1.00" stroke-linejoin="round"/>
<polygon points="320.8,205.0 325.0,205.0 325.0,211.0 320.8,211.0" fill="#fff" stroke="#000" stroke-width="1.00" stroke-linejoin="round"/>
<polygon points="334.2,202.5 351.7,202.5 351.7,211.0 334.2,211.0" fill="#fff" stroke="#000" stroke-width="1.30" stroke-linejoin="round"/>
<line x1="334.2" y1="205.0" x2="351.7" y2="205.0" stroke="#000" stroke-width="1.00" stroke-linecap="butt"/>
<polygon points="351.7,207.5 367.5,207.5 367.5,211.0 351.7,211.0" fill="#fff" stroke="#000" stroke-width="1.30" stroke-linejoin="round"/>
<line x1="311.7" y1="211.0" x2="311.7" y2="220.6" stroke="#000" stroke-width="1.00" stroke-linecap="butt"/>
<line x1="324.2" y1="211.0" x2="324.2" y2="220.6" stroke="#000" stroke-width="1.00" stroke-linecap="butt"/>
<line x1="331.0" y1="211.0" x2="331.0" y2="220.6" stroke="#000" stroke-width="1.00" stroke-linecap="butt"/>
<line x1="274.3" y1="116.0" x2="335.8" y2="169.4" stroke="#000" stroke-width="1.00" stroke-linecap="butt"/>
<line x1="248.7" y1="117.0" x2="320.3" y2="175.6" stroke="#000" stroke-width="1.00" stroke-linecap="butt"/>
<polygon points="258.8,70.5 247.2,116.0 274.3,116.0 259.9,71.0" fill="none" stroke="#000" stroke-width="1.00" stroke-linejoin="round"/>
<polygon points="258.0,64.0 259.3,64.0 260.0,70.0 266.2,116.0 271.0,184.2 265.6,184.2 262.3,116.0 258.2,70.0" fill="#fff" stroke="#000" stroke-width="1.00" stroke-linejoin="round"/>
<polygon points="260.4,82.3 264.6,82.3 264.6,88.2 260.4,88.2" fill="#fff" stroke="#000" stroke-width="1.00" stroke-linejoin="round"/>
<line x1="247.2" y1="116.0" x2="274.3" y2="116.0" stroke="#000" stroke-width="1.20" stroke-linecap="butt"/>
<polyline points="256.0,116.6 262.6,122.0 263.5,127.5" fill="none" stroke="#000" stroke-width="1.00" stroke-linejoin="round"/>
<polyline points="272.5,116.6 267.3,122.0 266.8,127.5" fill="none" stroke="#000" stroke-width="1.00" stroke-linejoin="round"/>
<line x1="262.5" y1="127.5" x2="267.5" y2="127.5" stroke="#000" stroke-width="1.00" stroke-linecap="butt"/>
<line x1="241.3" y1="120.2" x2="263.8" y2="141.0" stroke="#000" stroke-width="1.50" stroke-linecap="butt"/>
<polygon points="257.3,172.3 280.2,172.3 280.2,173.6 272.0,177.0 264.0,177.0 257.3,173.6" fill="#fff" stroke="#000" stroke-width="1.00" stroke-linejoin="round"/>
<polygon points="260.1,169.5 262.3,169.5 262.3,172.5 260.1,172.5" fill="#fff" stroke="#000" stroke-width="1.00" stroke-linejoin="round"/>
<path d="M257.8 167.6 l2.2 -2.800 l2.400 0 l2.200 2.800 l-2.200 2.800 l-2.400 0 Z" fill="#fff" stroke="#000" stroke-width="1.00" stroke-linejoin="round"/>
<polygon points="274.9,169.5 277.1,169.5 277.1,172.5 274.9,172.5" fill="#fff" stroke="#000" stroke-width="1.00" stroke-linejoin="round"/>
<path d="M272.6 167.6 l2.2 -2.800 l2.400 0 l2.200 2.800 l-2.200 2.800 l-2.400 0 Z" fill="#fff" stroke="#000" stroke-width="1.00" stroke-linejoin="round"/>
<polygon points="335.5,168.6 336.4,170.3 274.0,196.6 273.2,194.8" fill="#fff" stroke="#000" stroke-width="1.00" stroke-linejoin="round"/>
<polygon points="283.3,194.2 300.0,193.7 350.0,193.7 369.2,194.6 369.2,197.6 350.0,199.8 300.0,200.0 283.3,199.4" fill="#4a4a4a" stroke="#000" stroke-width="1.00" stroke-linejoin="round"/>
<path d="M330.8 214.4 L363.3 214.4 L362.5 218.8 Q362.0 220.7 360.3 220.7 L333.3 220.7 Q331.6 220.6 330.8 214.4 Z" fill="#fff" stroke="#000" stroke-width="1.30" stroke-linejoin="round"/>
<path d="M366.7 214.4 L405.0 214.4 L404.2 218.8 Q403.7 220.7 402.0 220.7 L369.2 220.7 Q367.5 220.6 366.7 214.4 Z" fill="#fff" stroke="#000" stroke-width="1.30" stroke-linejoin="round"/>
<polygon points="364.1,204.0 365.5,204.0 365.5,220.6 364.1,220.6" fill="#fff" stroke="#000" stroke-width="1.00" stroke-linejoin="round"/>
<polygon points="402.1,204.0 403.5,204.0 403.5,220.6 402.1,220.6" fill="#fff" stroke="#000" stroke-width="1.00" stroke-linejoin="round"/>
<polygon points="368.5,176.7 390.2,176.7 393.3,210.8 370.8,210.8" fill="#fff" stroke="#000" stroke-width="1.30" stroke-linejoin="round"/>
<path d="M369.5 167.5 Q379 160.3 388.5 167.500 Z" fill="#000" stroke="#000" stroke-width="1.00" stroke-linejoin="round"/>
<path d="M367.5 176.7 L367.5 168.5 Q367.6 167.3 369 167.3 L389 167.3 Q390.3 167.3 390.4 168.5 L390.4 176.7 Z" fill="#fff" stroke="#000" stroke-width="1.30" stroke-linejoin="round"/>
<polygon points="367.5,171.6 390.4,171.6 390.4,176.7 367.5,176.7" fill="#fff" stroke="#000" stroke-width="1.00" stroke-linejoin="round"/>
<polygon points="493.3,203.3 523.5,203.3 523.5,210.8 493.3,210.8" fill="#fff" stroke="#000" stroke-width="1.30" stroke-linejoin="round"/>
<polygon points="494.5,169.2 519.7,169.2 524.2,210.8 499.2,210.8" fill="#fff" stroke="#000" stroke-width="1.30" stroke-linejoin="round"/>
<polygon points="496.6,170.5 517.6,170.5 521.3,203.3 500.5,203.3" fill="none" stroke="#000" stroke-width="1.00" stroke-linejoin="round"/>
<path d="M499 166.5 Q507 160.6 515.5 166.500 Z" fill="#000" stroke="#000" stroke-width="1.00" stroke-linejoin="round"/>
<path d="M494.2 169.2 L494.2 167 Q494.3 166.3 495.500 166.3 L519 166.3 Q520 166.3 520 167 L520 169.2 Z" fill="#fff" stroke="#000" stroke-width="1.30" stroke-linejoin="round"/>
<polygon points="405.0,210.8 533.3,210.8 533.3,220.6 405.0,220.6" fill="#fff" stroke="#000" stroke-width="1.30" stroke-linejoin="round"/>
<line x1="410.0" y1="210.8" x2="410.0" y2="220.6" stroke="#000" stroke-width="1.00" stroke-linecap="butt"/>
<line x1="474.2" y1="210.8" x2="474.2" y2="220.6" stroke="#000" stroke-width="1.00" stroke-linecap="butt"/>
<line x1="487.5" y1="210.8" x2="487.5" y2="220.6" stroke="#000" stroke-width="1.00" stroke-linecap="butt"/>
<line x1="497.5" y1="210.8" x2="497.5" y2="220.6" stroke="#000" stroke-width="1.00" stroke-linecap="butt"/>
<line x1="508.3" y1="210.8" x2="508.3" y2="220.6" stroke="#000" stroke-width="1.00" stroke-linecap="butt"/>
<polygon points="429.4,214.2 447.0,214.2 447.0,218.4 429.4,218.4" fill="#000" stroke="#000" stroke-width="1.00" stroke-linejoin="round"/>
<polygon points="447.0,215.0 459.8,215.0 459.8,218.0 447.0,218.0" fill="#000" stroke="#000" stroke-width="1.00" stroke-linejoin="round"/>
<polygon points="423.6,212.6 427.2,212.6 427.2,220.0 423.6,220.0" fill="#000" stroke="#000" stroke-width="1.00" stroke-linejoin="round"/>
<polygon points="459.8,212.6 463.4,212.6 463.4,220.0 459.8,220.0" fill="#000" stroke="#000" stroke-width="1.00" stroke-linejoin="round"/>
<polygon points="437.7,218.4 448.0,218.4 448.0,220.5 437.7,220.5" fill="#000" stroke="#000" stroke-width="1.00" stroke-linejoin="round"/>
<polygon points="401.7,205.0 419.2,205.0 419.2,210.8 401.7,210.8" fill="#fff" stroke="#000" stroke-width="1.30" stroke-linejoin="round"/>
<polygon points="404.2,201.7 417.5,201.7 417.5,205.0 404.2,205.0" fill="#fff" stroke="#000" stroke-width="1.30" stroke-linejoin="round"/>
<path d="M405.0 201.7 L405.0 199 Q407.5 197.3 410.0 199 L410.0 201.7 Z" fill="#fff" stroke="#000" stroke-width="1.00" stroke-linejoin="round"/>
<path d="M411.7 201.7 L411.7 199 Q414.2 197.3 416.7 199 L416.7 201.7 Z" fill="#fff" stroke="#000" stroke-width="1.00" stroke-linejoin="round"/>
<polygon points="425.0,203.3 437.5,203.3 437.5,210.8 425.0,210.8" fill="#fff" stroke="#000" stroke-width="1.30" stroke-linejoin="round"/>
<polygon points="441.7,205.8 458.3,205.8 458.3,210.8 441.7,210.8" fill="#fff" stroke="#000" stroke-width="1.30" stroke-linejoin="round"/>
<polygon points="445.8,200.0 456.7,200.0 456.7,205.8 445.8,205.8" fill="#fff" stroke="#000" stroke-width="1.30" stroke-linejoin="round"/>
<line x1="445.8" y1="200.5" x2="456.7" y2="200.5" stroke="#000" stroke-width="1.00" stroke-linecap="butt"/>
<polygon points="465.0,200.0 486.7,200.0 486.7,210.8 465.0,210.8" fill="#fff" stroke="#000" stroke-width="1.30" stroke-linejoin="round"/>
<line x1="465.0" y1="205.0" x2="486.7" y2="205.0" stroke="#000" stroke-width="1.00" stroke-linecap="butt"/>
<line x1="465.0" y1="200.5" x2="486.7" y2="200.5" stroke="#000" stroke-width="1.00" stroke-linecap="butt"/>
<line x1="419.0" y1="208.5" x2="424.0" y2="205.3" stroke="#000" stroke-width="1.00" stroke-linecap="butt"/>
<polygon points="419.5,208.0 423.5,208.0 423.5,210.6 419.5,210.6" fill="#000" stroke="#000" stroke-width="1.00" stroke-linejoin="round"/>
<line x1="436.5" y1="208.5" x2="441.5" y2="205.3" stroke="#000" stroke-width="1.00" stroke-linecap="butt"/>
<polygon points="437.0,208.0 441.0,208.0 441.0,210.6 437.0,210.6" fill="#000" stroke="#000" stroke-width="1.00" stroke-linejoin="round"/>
<line x1="490.0" y1="208.5" x2="495.0" y2="205.3" stroke="#000" stroke-width="1.00" stroke-linecap="butt"/>
<polygon points="490.5,208.0 494.5,208.0 494.5,210.6 490.5,210.6" fill="#000" stroke="#000" stroke-width="1.00" stroke-linejoin="round"/>
<line x1="511.0" y1="208.5" x2="516.0" y2="205.3" stroke="#000" stroke-width="1.00" stroke-linecap="butt"/>
<polygon points="511.5,208.0 515.5,208.0 515.5,210.6 511.5,210.6" fill="#000" stroke="#000" stroke-width="1.00" stroke-linejoin="round"/>
<polygon points="425.8,179.5 430.6,179.5 431.0,203.3 426.2,203.3" fill="#fff" stroke="#000" stroke-width="1.00" stroke-linejoin="round"/>
<polygon points="426.5,177.6 470.0,168.3 478.0,166.4 485.8,166.2 478.3,168.0 470.5,169.9 427.0,179.3" fill="#fff" stroke="#000" stroke-width="1.00" stroke-linejoin="round"/>
<polygon points="431.0,197.2 477.5,167.5 478.6,168.8 432.0,199.0" fill="#fff" stroke="#000" stroke-width="1.00" stroke-linejoin="round"/>
<polygon points="425.4,177.0 430.0,177.0 430.0,181.5 425.4,181.5" fill="#fff" stroke="#000" stroke-width="1.00" stroke-linejoin="round"/>
<line x1="425.2" y1="181.0" x2="422.5" y2="206.0" stroke="#000" stroke-width="1.00" stroke-linecap="butt"/>
<polygon points="593.3,201.3 600.8,201.3 600.8,210.4 593.3,210.4" fill="#fff" stroke="#000" stroke-width="1.00" stroke-linejoin="round"/>
<polygon points="535.0,191.7 593.3,191.7 593.3,201.3 535.0,201.3" fill="#fff" stroke="#000" stroke-width="1.30" stroke-linejoin="round"/>
<polygon points="539.5,192.5 544.0,192.5 544.0,201.3 539.5,201.3" fill="#fff" stroke="#000" stroke-width="1.00" stroke-linejoin="round"/>
<polygon points="550.8,192.5 555.0,192.5 555.0,201.3 550.8,201.3" fill="#fff" stroke="#000" stroke-width="1.00" stroke-linejoin="round"/>
<polygon points="557.5,192.5 561.7,192.5 561.7,201.3 557.5,201.3" fill="#fff" stroke="#000" stroke-width="1.00" stroke-linejoin="round"/>
<polygon points="568.3,192.5 570.8,192.5 570.8,201.3 568.3,201.3" fill="#fff" stroke="#000" stroke-width="1.00" stroke-linejoin="round"/>
<polygon points="588.3,192.5 591.7,192.5 591.7,201.3 588.3,201.3" fill="#fff" stroke="#000" stroke-width="1.00" stroke-linejoin="round"/>
<polygon points="535.0,185.8 593.3,185.8 593.3,191.9 535.0,191.9" fill="#fff" stroke="#000" stroke-width="1.30" stroke-linejoin="round"/>
<polygon points="545.8,180.8 593.3,180.8 593.3,185.8 545.8,185.8" fill="#fff" stroke="#000" stroke-width="1.30" stroke-linejoin="round"/>
<polygon points="565.0,181.5 570.8,181.5 570.8,185.0 565.0,185.0" fill="#fff" stroke="#000" stroke-width="1.00" stroke-linejoin="round"/>
<polygon points="522.5,175.8 593.3,175.8 593.3,180.8 522.5,180.8" fill="#fff" stroke="#000" stroke-width="1.30" stroke-linejoin="round"/>
<line x1="533.3" y1="175.8" x2="533.3" y2="180.8" stroke="#000" stroke-width="1.00" stroke-linecap="butt"/>
<line x1="546.0" y1="175.8" x2="546.0" y2="185.8" stroke="#000" stroke-width="1.00" stroke-linecap="butt"/>
<line x1="566.0" y1="175.8" x2="566.0" y2="180.8" stroke="#000" stroke-width="1.00" stroke-linecap="butt"/>
<line x1="576.5" y1="175.8" x2="576.5" y2="191.7" stroke="#000" stroke-width="1.00" stroke-linecap="butt"/>
<polygon points="576.5,173.0 593.3,173.0 593.3,175.8 576.5,175.8" fill="#fff" stroke="#000" stroke-width="1.30" stroke-linejoin="round"/>
<polygon points="564.0,170.3 576.7,170.3 576.7,175.8 564.0,175.8" fill="#fff" stroke="#000" stroke-width="1.30" stroke-linejoin="round"/>
<polygon points="539.0,170.8 560.0,170.8 560.0,175.8 539.0,175.8" fill="#fff" stroke="#000" stroke-width="1.30" stroke-linejoin="round"/>
<polygon points="541.0,165.8 556.0,165.8 556.0,170.8 541.0,170.8" fill="#fff" stroke="#000" stroke-width="1.30" stroke-linejoin="round"/>
<polygon points="566.7,169.3 581.5,169.3 581.5,171.3 566.7,171.3" fill="#fff" stroke="#000" stroke-width="1.30" stroke-linejoin="round"/>
<polygon points="568.5,168.3 577.0,168.3 577.0,169.8 568.5,169.8" fill="#fff" stroke="#000" stroke-width="1.00" stroke-linejoin="round"/>
<path d="M570.2 168.3 L570 162.3 Q570 161.2 571.2 161.2 L574.2 161.2 Q575.4 161.2 575.3 162.3 L575 168.3 Z" fill="#fff" stroke="#000" stroke-width="1.00" stroke-linejoin="round"/>
<polygon points="527.0,186.0 531.0,186.0 531.0,210.0 527.0,210.0" fill="#fff" stroke="#000" stroke-width="1.00" stroke-linejoin="round"/>
<polygon points="556.7,146.2 567.0,146.2 567.0,152.4 556.7,152.4" fill="#fff" stroke="#000" stroke-width="1.30" stroke-linejoin="round"/>
<polygon points="556.7,154.1 567.6,154.1 568.3,159.5 556.7,159.5" fill="#fff" stroke="#000" stroke-width="1.30" stroke-linejoin="round"/>
<polygon points="556.7,159.5 568.3,159.5 563.0,163.3 556.7,163.3" fill="#fff" stroke="#000" stroke-width="1.30" stroke-linejoin="round"/>
<polygon points="547.2,115.2 550.0,115.2 528.8,216.5 526.3,220.4 524.2,220.4" fill="#fff" stroke="#000" stroke-width="1.00" stroke-linejoin="round"/>
<polygon points="549.8,115.2 552.6,115.2 557.5,200.5 554.3,200.5" fill="#fff" stroke="#000" stroke-width="1.00" stroke-linejoin="round"/>
<line x1="545.2" y1="142.6" x2="572.6" y2="142.6" stroke="#000" stroke-width="1.00" stroke-linecap="butt"/>
<line x1="554.0" y1="127.9" x2="568.2" y2="127.9" stroke="#000" stroke-width="1.00" stroke-linecap="butt"/>
<line x1="554.5" y1="132.5" x2="559.5" y2="128.2" stroke="#000" stroke-width="1.00" stroke-linecap="butt"/>
<line x1="555.0" y1="147.0" x2="560.0" y2="142.8" stroke="#000" stroke-width="1.00" stroke-linecap="butt"/>
<polygon points="561.4,125.3 563.4,125.3 563.4,127.8 561.4,127.8" fill="#fff" stroke="#000" stroke-width="1.00" stroke-linejoin="round"/>
<path d="M559.1 122.8 l2.2 -2.800 l2.200 0 l2.200 2.800 l-2.200 2.800 l-2.200 0 Z" fill="#fff" stroke="#000" stroke-width="1.00" stroke-linejoin="round"/>
<polygon points="561.9,139.7 563.9,139.7 563.9,142.2 561.9,142.2" fill="#fff" stroke="#000" stroke-width="1.00" stroke-linejoin="round"/>
<path d="M559.6 137.2 l2.2 -2.800 l2.200 0 l2.200 2.800 l-2.200 2.800 l-2.200 0 Z" fill="#fff" stroke="#000" stroke-width="1.00" stroke-linejoin="round"/>
<line x1="528.3" y1="114.0" x2="569.1" y2="114.5" stroke="#000" stroke-width="1.10" stroke-linecap="butt"/>
<line x1="547.0" y1="115.0" x2="553.0" y2="120.0" stroke="#000" stroke-width="1.00" stroke-linecap="butt"/>
<line x1="558.0" y1="115.0" x2="553.5" y2="120.0" stroke="#000" stroke-width="1.00" stroke-linecap="butt"/>
<circle cx="540.4" cy="112.2" r="1.90" fill="#fff" stroke="#000" stroke-width="1.00"/>
<circle cx="562.6" cy="112.6" r="1.20" fill="#fff" stroke="#000" stroke-width="1.00"/>
<line x1="543.8" y1="78.0" x2="543.8" y2="92.0" stroke="#000" stroke-width="1.00" stroke-linecap="butt"/>
<polygon points="542.9,91.5 544.8,91.5 544.8,110.0 542.9,110.0" fill="#fff" stroke="#000" stroke-width="1.00" stroke-linejoin="round"/>
<path d="M544.5 98.3 L556.5 98.6 L557 101.7 Q562 102.5 562 106 Q561.8 110 557 110.5 L556.8 113.400 L544.5 113.400 Z" fill="#fff" stroke="#000" stroke-width="1.00" stroke-linejoin="round"/>
<polygon points="600.8,200.0 628.3,200.0 628.3,210.4 600.8,210.4" fill="#000" stroke="#000" stroke-width="1.00" stroke-linejoin="round"/>
<line x1="624.0" y1="193.5" x2="654.8" y2="190.6" stroke="#000" stroke-width="1.80" stroke-linecap="butt"/>
<polygon points="597.5,183.3 602.5,183.3 602.8,188.3 621.0,190.8 623.5,191.8 628.3,199.8 598.5,199.8 596.7,189.0" fill="#000" stroke="#000" stroke-width="1.00" stroke-linejoin="round"/>
<line x1="660.0" y1="202.9" x2="693.5" y2="200.0" stroke="#000" stroke-width="1.80" stroke-linecap="butt"/>
<polygon points="635.0,197.3 636.5,197.0 659.0,200.3 661.5,201.3 666.7,210.0 638.0,210.0 635.2,199.0" fill="#000" stroke="#000" stroke-width="1.00" stroke-linejoin="round"/>
<polygon points="688.0,208.2 693.0,208.2 693.0,210.3 688.0,210.3" fill="#fff" stroke="#000" stroke-width="1.00" stroke-linejoin="round"/>
<polygon points="696.7,207.0 701.7,207.0 701.7,210.3 696.7,210.3" fill="#fff" stroke="#000" stroke-width="1.00" stroke-linejoin="round"/>
<polygon points="710.7,206.7 715.7,206.7 715.7,210.3 710.7,210.3" fill="#fff" stroke="#000" stroke-width="1.00" stroke-linejoin="round"/>
<polygon points="770.0,207.3 775.0,207.3 775.0,208.6 770.0,208.6" fill="#fff" stroke="#000" stroke-width="1.00" stroke-linejoin="round"/></g>
<g transform="translate(433.6 355.1) scale(0.4765)"><path d="M28.3 212.3 Q146.7 199.3 265 178.300" fill="none" stroke="#000" stroke-width="1.10" stroke-linejoin="round"/>
<path d="M259.9 69.4 Q399 98 538.5 114.2" fill="none" stroke="#000" stroke-width="1.10" stroke-linejoin="round"/>
<path d="M580.7 171.7 Q706.5 187.6 831.7 200.6" fill="none" stroke="#000" stroke-width="1.10" stroke-linejoin="round"/>
<path d="M28 220 L527 220.5 Q533.3 219 533.3 212 L533.3 201.5 L594 201.5 L594 210.6 L720 210.4 Q790 209.6 831.9 206 Q820.5 228 818.3 243 Q816.5 260 807.6 271.4 L640 272 L400 273.5 L200 275.3 L142.5 275.8 L127 265.2 L120.8 265.2 Q120.3 276.2 111.2 276.2 Q102.2 276.2 101.7 265.6 L55.8 266.6 L55.8 256 L43 252.6 Q38 250.5 34 247 Q28 240 27.5 232 Z" fill="#fff" stroke="#000" stroke-width="1.30" stroke-linejoin="round"/>
<line x1="27.6" y1="243.0" x2="818.5" y2="243.0" stroke="#000" stroke-width="1.00" stroke-linecap="butt"/>
<line x1="34.0" y1="247.5" x2="817.0" y2="247.5" stroke="#000" stroke-width="1.00" stroke-linecap="butt"/>
<path d="M44.2 253.3 L55.8 255.8 L55.8 267.5 L63 267.5 Q64.8 267.5 64.8 269.3 L64.8 275 Q64.8 276.8 63 276.8 L44.2 276.8 Q42.2 276.8 42.2 274.8 L42.2 255.3 Q42.2 253.3 44.2 253.3 Z" fill="#fff" stroke="#000" stroke-width="1.30" stroke-linejoin="round"/>
<line x1="102.0" y1="266.6" x2="127.0" y2="266.3" stroke="#000" stroke-width="1.00" stroke-linecap="butt"/>
<line x1="165.0" y1="266.8" x2="208.5" y2="265.6" stroke="#000" stroke-width="1.60" stroke-linecap="butt"/>
<polygon points="224.0,263.6 250.0,263.6 253.5,264.6 250.0,265.6 224.0,265.8" fill="#fff" stroke="#000" stroke-width="1.00" stroke-linejoin="round"/>
<path d="M208.5 265.6 q2 -2.5 7 -2.5 q5 0.5 8.500 2.500" fill="none" stroke="#000" stroke-width="1.00" stroke-linejoin="round"/>
<path d="M78.5 265 L98.5 264.9 L102.1 265.6 L102.7 266.9 L102.1 268.6 L98.5 269.2 L78.5 269.2 Z" fill="#fff" stroke="#000" stroke-width="1.00" stroke-linejoin="round"/>
<path d="M82.5 259.3 q2.6 0.3 2.4 5.5 l0 4.500 q0.2 5.8 -2.4 6 q-2.600 -0.2 -2.4 -6 l0 -4.500 q-0.2 -5.200 2.4 -5.500 Z" fill="#fff" stroke="#000" stroke-width="1.00" stroke-linejoin="round"/>
<path d="M141.2 265 L161.2 264.9 L164.8 265.6 L165.4 266.9 L164.8 268.6 L161.2 269.2 L141.2 269.2 Z" fill="#fff" stroke="#000" stroke-width="1.00" stroke-linejoin="round"/>
<path d="M145.2 259.3 q2.6 0.3 2.4 5.5 l0 4.500 q0.2 5.8 -2.4 6 q-2.600 -0.2 -2.4 -6 l0 -4.500 q-0.2 -5.200 2.4 -5.500 Z" fill="#fff" stroke="#000" stroke-width="1.00" stroke-linejoin="round"/>
<line x1="15.3" y1="190.5" x2="28.0" y2="212.5" stroke="#000" stroke-width="1.80" stroke-linecap="butt"/>
<line x1="28.0" y1="212.5" x2="32.5" y2="220.0" stroke="#000" stroke-width="1.00" stroke-linecap="butt"/>
<line x1="28.0" y1="212.5" x2="28.0" y2="220.0" stroke="#000" stroke-width="1.00" stroke-linecap="butt"/>
<line x1="831.9" y1="188.4" x2="831.9" y2="206.0" stroke="#000" stroke-width="1.20" stroke-linecap="butt"/>
<polygon points="831.7,201.5 829.6,206.0 831.9,206.0" fill="none" stroke="#000" stroke-width="1.00" stroke-linejoin="round"/>
<polygon points="161.7,218.3 164.3,218.3 164.3,220.3 161.7,220.3" fill="#000" stroke="#000" stroke-width="1.00" stroke-linejoin="round"/>
<polygon points="165.7,218.3 168.3,218.3 168.3,220.3 165.7,220.3" fill="#000" stroke="#000" stroke-width="1.00" stroke-linejoin="round"/>
<polygon points="63.0,218.6 65.5,218.6 65.5,220.2 63.0,220.2" fill="#000" stroke="#000" stroke-width="1.00" stroke-linejoin="round"/>
<polygon points="66.5,218.6 69.0,218.6 69.0,220.2 66.5,220.2" fill="#000" stroke="#000" stroke-width="1.00" stroke-linejoin="round"/>
<polygon points="71.5,218.2 78.0,218.2 78.0,220.2 71.5,220.2" fill="#000" stroke="#000" stroke-width="1.00" stroke-linejoin="round"/>
<line x1="88.0" y1="213.8" x2="91.5" y2="218.0" stroke="#000" stroke-width="1.00" stroke-linecap="butt"/>
<polygon points="89.5,217.3 94.0,217.3 94.0,220.2 89.5,220.2" fill="#fff" stroke="#000" stroke-width="1.00" stroke-linejoin="round"/>
<polygon points="95.0,218.5 97.5,218.5 97.5,220.2 95.0,220.2" fill="#000" stroke="#000" stroke-width="1.00" stroke-linejoin="round"/>
<line x1="120.0" y1="213.8" x2="123.5" y2="218.0" stroke="#000" stroke-width="1.00" stroke-linecap="butt"/>
<polygon points="121.5,217.3 126.0,217.3 126.0,220.2 121.5,220.2" fill="#fff" stroke="#000" stroke-width="1.00" stroke-linejoin="round"/>
<polygon points="127.0,218.5 129.5,218.5 129.5,220.2 127.0,220.2" fill="#000" stroke="#000" stroke-width="1.00" stroke-linejoin="round"/>
<polygon points="94.5,216.8 100.5,216.8 100.5,220.2 94.5,220.2" fill="#000" stroke="#000" stroke-width="1.00" stroke-linejoin="round"/>
<line x1="168.3" y1="211.5" x2="201.0" y2="214.3" stroke="#000" stroke-width="1.20" stroke-linecap="butt"/>
<polygon points="195.3,220.3 200.0,212.6 203.0,211.6 226.5,208.2 227.0,210.0 225.8,220.3" fill="#000" stroke="#000" stroke-width="1.00" stroke-linejoin="round"/>
<polygon points="232.5,208.4 260.0,208.4 260.0,220.4 232.5,220.4" fill="#000" stroke="#000" stroke-width="1.00" stroke-linejoin="round"/>
<line x1="205.0" y1="200.0" x2="238.5" y2="203.6" stroke="#000" stroke-width="1.20" stroke-linecap="butt"/>
<polygon points="232.5,208.4 237.3,200.2 240.0,199.2 257.5,196.4 257.5,192.6 262.3,192.6 262.6,199.2 260.3,208.4" fill="#000" stroke="#000" stroke-width="1.00" stroke-linejoin="round"/>
<polygon points="260.0,211.0 367.5,211.0 367.5,220.6 260.0,220.6" fill="#fff" stroke="#000" stroke-width="1.30" stroke-linejoin="round"/>
<polygon points="265.0,201.7 293.3,201.7 293.3,211.0 265.0,211.0" fill="#fff" stroke="#000" stroke-width="1.30" stroke-linejoin="round"/>
<polygon points="284.8,202.3 293.1,202.3 293.1,211.0 284.8,211.0" fill="#fff" stroke="#000" stroke-width="1.00" stroke-linejoin="round"/>
<polygon points="264.2,212.3 268.3,212.3 268.3,220.4 264.2,220.4" fill="#fff" stroke="#000" stroke-width="1.00" stroke-linejoin="round"/>
<polygon points="277.5,212.3 280.8,212.3 280.8,220.4 277.5,220.4" fill="#fff" stroke="#000" stroke-width="1.00" stroke-linejoin="round"/>
<polygon points="267.5,190.8 274.2,190.8 274.2,201.7 267.5,201.7" fill="#fff" stroke="#000" stroke-width="1.30" stroke-linejoin="round"/>
<polygon points="258.3,184.2 279.7,184.2 279.7,190.8 258.3,190.8" fill="#fff" stroke="#000" stroke-width="1.30" stroke-linejoin="round"/>
<polygon points="300.0,203.0 331.7,203.0 331.7,205.0 300.0,205.0" fill="#fff" stroke="#000" stroke-width="1.00" stroke-linejoin="round"/>
<polygon points="309.2,205.0 313.3,205.0 313.3,211.0 309.2,211.0" fill="#fff" stroke="#000" stroke-width="1.00" stroke-linejoin="round"/>
<polygon points="320.8,205.0 325.0,205.0 325.0,211.0 320.8,211.0" fill="#fff" stroke="#000" stroke-width="1.00" stroke-linejoin="round"/>
<polygon points="334.2,202.5 351.7,202.5 351.7,211.0 334.2,211.0" fill="#fff" stroke="#000" stroke-width="1.30" stroke-linejoin="round"/>
<line x1="334.2" y1="205.0" x2="351.7" y2="205.0" stroke="#000" stroke-width="1.00" stroke-linecap="butt"/>
<polygon points="351.7,207.5 367.5,207.5 367.5,211.0 351.7,211.0" fill="#fff" stroke="#000" stroke-width="1.30" stroke-linejoin="round"/>
<line x1="311.7" y1="211.0" x2="311.7" y2="220.6" stroke="#000" stroke-width="1.00" stroke-linecap="butt"/>
<line x1="324.2" y1="211.0" x2="324.2" y2="220.6" stroke="#000" stroke-width="1.00" stroke-linecap="butt"/>
<line x1="331.0" y1="211.0" x2="331.0" y2="220.6" stroke="#000" stroke-width="1.00" stroke-linecap="butt"/>
<line x1="274.3" y1="116.0" x2="335.8" y2="169.4" stroke="#000" stroke-width="1.00" stroke-linecap="butt"/>
<line x1="248.7" y1="117.0" x2="320.3" y2="175.6" stroke="#000" stroke-width="1.00" stroke-linecap="butt"/>
<polygon points="258.8,70.5 247.2,116.0 274.3,116.0 259.9,71.0" fill="none" stroke="#000" stroke-width="1.00" stroke-linejoin="round"/>
<polygon points="258.0,64.0 259.3,64.0 260.0,70.0 266.2,116.0 271.0,184.2 265.6,184.2 262.3,116.0 258.2,70.0" fill="#fff" stroke="#000" stroke-width="1.00" stroke-linejoin="round"/>
<polygon points="260.4,82.3 264.6,82.3 264.6,88.2 260.4,88.2" fill="#fff" stroke="#000" stroke-width="1.00" stroke-linejoin="round"/>
<line x1="247.2" y1="116.0" x2="274.3" y2="116.0" stroke="#000" stroke-width="1.20" stroke-linecap="butt"/>
<polyline points="256.0,116.6 262.6,122.0 263.5,127.5" fill="none" stroke="#000" stroke-width="1.00" stroke-linejoin="round"/>
<polyline points="272.5,116.6 267.3,122.0 266.8,127.5" fill="none" stroke="#000" stroke-width="1.00" stroke-linejoin="round"/>
<line x1="262.5" y1="127.5" x2="267.5" y2="127.5" stroke="#000" stroke-width="1.00" stroke-linecap="butt"/>
<line x1="241.3" y1="120.2" x2="263.8" y2="141.0" stroke="#000" stroke-width="1.50" stroke-linecap="butt"/>
<polygon points="257.3,172.3 280.2,172.3 280.2,173.6 272.0,177.0 264.0,177.0 257.3,173.6" fill="#fff" stroke="#000" stroke-width="1.00" stroke-linejoin="round"/>
<polygon points="260.1,169.5 262.3,169.5 262.3,172.5 260.1,172.5" fill="#fff" stroke="#000" stroke-width="1.00" stroke-linejoin="round"/>
<path d="M257.8 167.6 l2.2 -2.800 l2.400 0 l2.200 2.800 l-2.200 2.800 l-2.400 0 Z" fill="#fff" stroke="#000" stroke-width="1.00" stroke-linejoin="round"/>
<polygon points="274.9,169.5 277.1,169.5 277.1,172.5 274.9,172.5" fill="#fff" stroke="#000" stroke-width="1.00" stroke-linejoin="round"/>
<path d="M272.6 167.6 l2.2 -2.800 l2.400 0 l2.200 2.800 l-2.200 2.800 l-2.400 0 Z" fill="#fff" stroke="#000" stroke-width="1.00" stroke-linejoin="round"/>
<polygon points="335.5,168.6 336.4,170.3 274.0,196.6 273.2,194.8" fill="#fff" stroke="#000" stroke-width="1.00" stroke-linejoin="round"/>
<polygon points="283.3,194.2 300.0,193.7 350.0,193.7 369.2,194.6 369.2,197.6 350.0,199.8 300.0,200.0 283.3,199.4" fill="#4a4a4a" stroke="#000" stroke-width="1.00" stroke-linejoin="round"/>
<path d="M330.8 214.4 L363.3 214.4 L362.5 218.8 Q362.0 220.7 360.3 220.7 L333.3 220.7 Q331.6 220.6 330.8 214.4 Z" fill="#fff" stroke="#000" stroke-width="1.30" stroke-linejoin="round"/>
<path d="M366.7 214.4 L405.0 214.4 L404.2 218.8 Q403.7 220.7 402.0 220.7 L369.2 220.7 Q367.5 220.6 366.7 214.4 Z" fill="#fff" stroke="#000" stroke-width="1.30" stroke-linejoin="round"/>
<polygon points="364.1,204.0 365.5,204.0 365.5,220.6 364.1,220.6" fill="#fff" stroke="#000" stroke-width="1.00" stroke-linejoin="round"/>
<polygon points="402.1,204.0 403.5,204.0 403.5,220.6 402.1,220.6" fill="#fff" stroke="#000" stroke-width="1.00" stroke-linejoin="round"/>
<polygon points="368.5,176.7 390.2,176.7 393.3,210.8 370.8,210.8" fill="#fff" stroke="#000" stroke-width="1.30" stroke-linejoin="round"/>
<path d="M369.5 167.5 Q379 160.3 388.5 167.500 Z" fill="#000" stroke="#000" stroke-width="1.00" stroke-linejoin="round"/>
<path d="M367.5 176.7 L367.5 168.5 Q367.6 167.3 369 167.3 L389 167.3 Q390.3 167.3 390.4 168.5 L390.4 176.7 Z" fill="#fff" stroke="#000" stroke-width="1.30" stroke-linejoin="round"/>
<polygon points="367.5,171.6 390.4,171.6 390.4,176.7 367.5,176.7" fill="#fff" stroke="#000" stroke-width="1.00" stroke-linejoin="round"/>
<polygon points="493.3,203.3 523.5,203.3 523.5,210.8 493.3,210.8" fill="#fff" stroke="#000" stroke-width="1.30" stroke-linejoin="round"/>
<polygon points="494.5,169.2 519.7,169.2 524.2,210.8 499.2,210.8" fill="#fff" stroke="#000" stroke-width="1.30" stroke-linejoin="round"/>
<polygon points="496.6,170.5 517.6,170.5 521.3,203.3 500.5,203.3" fill="none" stroke="#000" stroke-width="1.00" stroke-linejoin="round"/>
<path d="M499 166.5 Q507 160.6 515.5 166.500 Z" fill="#000" stroke="#000" stroke-width="1.00" stroke-linejoin="round"/>
<path d="M494.2 169.2 L494.2 167 Q494.3 166.3 495.500 166.3 L519 166.3 Q520 166.3 520 167 L520 169.2 Z" fill="#fff" stroke="#000" stroke-width="1.30" stroke-linejoin="round"/>
<polygon points="405.0,210.8 533.3,210.8 533.3,220.6 405.0,220.6" fill="#fff" stroke="#000" stroke-width="1.30" stroke-linejoin="round"/>
<line x1="410.0" y1="210.8" x2="410.0" y2="220.6" stroke="#000" stroke-width="1.00" stroke-linecap="butt"/>
<line x1="474.2" y1="210.8" x2="474.2" y2="220.6" stroke="#000" stroke-width="1.00" stroke-linecap="butt"/>
<line x1="487.5" y1="210.8" x2="487.5" y2="220.6" stroke="#000" stroke-width="1.00" stroke-linecap="butt"/>
<line x1="497.5" y1="210.8" x2="497.5" y2="220.6" stroke="#000" stroke-width="1.00" stroke-linecap="butt"/>
<line x1="508.3" y1="210.8" x2="508.3" y2="220.6" stroke="#000" stroke-width="1.00" stroke-linecap="butt"/>
<polygon points="429.4,214.2 447.0,214.2 447.0,218.4 429.4,218.4" fill="#fff" stroke="#000" stroke-width="1.00" stroke-linejoin="round"/>
<polygon points="447.0,215.0 459.8,215.0 459.8,218.0 447.0,218.0" fill="#fff" stroke="#000" stroke-width="1.00" stroke-linejoin="round"/>
<polygon points="423.6,212.6 427.2,212.6 427.2,220.0 423.6,220.0" fill="#fff" stroke="#000" stroke-width="1.00" stroke-linejoin="round"/>
<polygon points="459.8,212.6 463.4,212.6 463.4,220.0 459.8,220.0" fill="#fff" stroke="#000" stroke-width="1.00" stroke-linejoin="round"/>
<polygon points="437.7,218.4 448.0,218.4 448.0,220.5 437.7,220.5" fill="#fff" stroke="#000" stroke-width="1.00" stroke-linejoin="round"/>
<polygon points="401.7,205.0 419.2,205.0 419.2,210.8 401.7,210.8" fill="#fff" stroke="#000" stroke-width="1.30" stroke-linejoin="round"/>
<polygon points="404.2,201.7 417.5,201.7 417.5,205.0 404.2,205.0" fill="#fff" stroke="#000" stroke-width="1.30" stroke-linejoin="round"/>
<path d="M405.0 201.7 L405.0 199 Q407.5 197.3 410.0 199 L410.0 201.7 Z" fill="#fff" stroke="#000" stroke-width="1.00" stroke-linejoin="round"/>
<path d="M411.7 201.7 L411.7 199 Q414.2 197.3 416.7 199 L416.7 201.7 Z" fill="#fff" stroke="#000" stroke-width="1.00" stroke-linejoin="round"/>
<polygon points="425.0,203.3 437.5,203.3 437.5,210.8 425.0,210.8" fill="#fff" stroke="#000" stroke-width="1.30" stroke-linejoin="round"/>
<polygon points="441.7,205.8 458.3,205.8 458.3,210.8 441.7,210.8" fill="#fff" stroke="#000" stroke-width="1.30" stroke-linejoin="round"/>
<polygon points="445.8,200.0 456.7,200.0 456.7,205.8 445.8,205.8" fill="#fff" stroke="#000" stroke-width="1.30" stroke-linejoin="round"/>
<line x1="445.8" y1="200.5" x2="456.7" y2="200.5" stroke="#000" stroke-width="1.00" stroke-linecap="butt"/>
<polygon points="465.0,200.0 486.7,200.0 486.7,210.8 465.0,210.8" fill="#fff" stroke="#000" stroke-width="1.30" stroke-linejoin="round"/>
<line x1="465.0" y1="205.0" x2="486.7" y2="205.0" stroke="#000" stroke-width="1.00" stroke-linecap="butt"/>
<line x1="465.0" y1="200.5" x2="486.7" y2="200.5" stroke="#000" stroke-width="1.00" stroke-linecap="butt"/>
<line x1="419.0" y1="208.5" x2="424.0" y2="205.3" stroke="#000" stroke-width="1.00" stroke-linecap="butt"/>
<polygon points="419.5,208.0 423.5,208.0 423.5,210.6 419.5,210.6" fill="#fff" stroke="#000" stroke-width="1.00" stroke-linejoin="round"/>
<line x1="436.5" y1="208.5" x2="441.5" y2="205.3" stroke="#000" stroke-width="1.00" stroke-linecap="butt"/>
<polygon points="437.0,208.0 441.0,208.0 441.0,210.6 437.0,210.6" fill="#fff" stroke="#000" stroke-width="1.00" stroke-linejoin="round"/>
<line x1="490.0" y1="208.5" x2="495.0" y2="205.3" stroke="#000" stroke-width="1.00" stroke-linecap="butt"/>
<polygon points="490.5,208.0 494.5,208.0 494.5,210.6 490.5,210.6" fill="#fff" stroke="#000" stroke-width="1.00" stroke-linejoin="round"/>
<line x1="511.0" y1="208.5" x2="516.0" y2="205.3" stroke="#000" stroke-width="1.00" stroke-linecap="butt"/>
<polygon points="511.5,208.0 515.5,208.0 515.5,210.6 511.5,210.6" fill="#fff" stroke="#000" stroke-width="1.00" stroke-linejoin="round"/>
<polygon points="425.8,179.5 430.6,179.5 431.0,203.3 426.2,203.3" fill="#fff" stroke="#000" stroke-width="1.00" stroke-linejoin="round"/>
<polygon points="426.5,177.6 470.0,168.3 478.0,166.4 485.8,166.2 478.3,168.0 470.5,169.9 427.0,179.3" fill="#fff" stroke="#000" stroke-width="1.00" stroke-linejoin="round"/>
<polygon points="431.0,197.2 477.5,167.5 478.6,168.8 432.0,199.0" fill="#fff" stroke="#000" stroke-width="1.00" stroke-linejoin="round"/>
<polygon points="425.4,177.0 430.0,177.0 430.0,181.5 425.4,181.5" fill="#fff" stroke="#000" stroke-width="1.00" stroke-linejoin="round"/>
<line x1="425.2" y1="181.0" x2="422.5" y2="206.0" stroke="#000" stroke-width="1.00" stroke-linecap="butt"/>
<polygon points="593.3,201.3 600.8,201.3 600.8,210.4 593.3,210.4" fill="#fff" stroke="#000" stroke-width="1.00" stroke-linejoin="round"/>
<polygon points="535.0,191.7 593.3,191.7 593.3,201.3 535.0,201.3" fill="#fff" stroke="#000" stroke-width="1.30" stroke-linejoin="round"/>
<polygon points="539.5,192.5 544.0,192.5 544.0,201.3 539.5,201.3" fill="#fff" stroke="#000" stroke-width="1.00" stroke-linejoin="round"/>
<polygon points="550.8,192.5 555.0,192.5 555.0,201.3 550.8,201.3" fill="#fff" stroke="#000" stroke-width="1.00" stroke-linejoin="round"/>
<polygon points="557.5,192.5 561.7,192.5 561.7,201.3 557.5,201.3" fill="#fff" stroke="#000" stroke-width="1.00" stroke-linejoin="round"/>
<polygon points="568.3,192.5 570.8,192.5 570.8,201.3 568.3,201.3" fill="#fff" stroke="#000" stroke-width="1.00" stroke-linejoin="round"/>
<polygon points="588.3,192.5 591.7,192.5 591.7,201.3 588.3,201.3" fill="#fff" stroke="#000" stroke-width="1.00" stroke-linejoin="round"/>
<polygon points="535.0,185.8 593.3,185.8 593.3,191.9 535.0,191.9" fill="#fff" stroke="#000" stroke-width="1.30" stroke-linejoin="round"/>
<polygon points="545.8,180.8 593.3,180.8 593.3,185.8 545.8,185.8" fill="#000" stroke="#000" stroke-width="1.30" stroke-linejoin="round"/>
<polygon points="565.0,181.5 570.8,181.5 570.8,185.0 565.0,185.0" fill="#000" stroke="#000" stroke-width="1.00" stroke-linejoin="round"/>
<polygon points="522.5,175.8 593.3,175.8 593.3,180.8 522.5,180.8" fill="#fff" stroke="#000" stroke-width="1.30" stroke-linejoin="round"/>
<polygon points="546.0,175.8 593.3,175.8 593.3,180.8 546.0,180.8" fill="#000" stroke="#000" stroke-width="1.30" stroke-linejoin="round"/>
<line x1="533.3" y1="175.8" x2="533.3" y2="180.8" stroke="#000" stroke-width="1.00" stroke-linecap="butt"/>
<line x1="546.0" y1="175.8" x2="546.0" y2="185.8" stroke="#000" stroke-width="1.00" stroke-linecap="butt"/>
<line x1="566.0" y1="175.8" x2="566.0" y2="180.8" stroke="#000" stroke-width="1.00" stroke-linecap="butt"/>
<line x1="576.5" y1="175.8" x2="576.5" y2="191.7" stroke="#000" stroke-width="1.00" stroke-linecap="butt"/>
<polygon points="576.5,173.0 593.3,173.0 593.3,175.8 576.5,175.8" fill="#000" stroke="#000" stroke-width="1.30" stroke-linejoin="round"/>
<polygon points="564.0,170.3 576.7,170.3 576.7,175.8 564.0,175.8" fill="#000" stroke="#000" stroke-width="1.30" stroke-linejoin="round"/>
<polygon points="539.0,170.8 560.0,170.8 560.0,175.8 539.0,175.8" fill="#fff" stroke="#000" stroke-width="1.30" stroke-linejoin="round"/>
<polygon points="541.0,165.8 556.0,165.8 556.0,170.8 541.0,170.8" fill="#fff" stroke="#000" stroke-width="1.30" stroke-linejoin="round"/>
<polygon points="566.7,169.3 581.5,169.3 581.5,171.3 566.7,171.3" fill="#000" stroke="#000" stroke-width="1.30" stroke-linejoin="round"/>
<polygon points="568.5,168.3 577.0,168.3 577.0,169.8 568.5,169.8" fill="#fff" stroke="#000" stroke-width="1.00" stroke-linejoin="round"/>
<path d="M570.2 168.3 L570 162.3 Q570 161.2 571.2 161.2 L574.2 161.2 Q575.4 161.2 575.3 162.3 L575 168.3 Z" fill="#fff" stroke="#000" stroke-width="1.00" stroke-linejoin="round"/>
<polygon points="527.0,186.0 531.0,186.0 531.0,210.0 527.0,210.0" fill="#fff" stroke="#000" stroke-width="1.00" stroke-linejoin="round"/>
<polygon points="556.7,146.2 567.0,146.2 567.0,152.4 556.7,152.4" fill="#fff" stroke="#000" stroke-width="1.30" stroke-linejoin="round"/>
<polygon points="556.7,154.1 567.6,154.1 568.3,159.5 556.7,159.5" fill="#fff" stroke="#000" stroke-width="1.30" stroke-linejoin="round"/>
<polygon points="556.7,159.5 568.3,159.5 563.0,163.3 556.7,163.3" fill="#fff" stroke="#000" stroke-width="1.30" stroke-linejoin="round"/>
<polygon points="547.2,115.2 550.0,115.2 528.8,216.5 526.3,220.4 524.2,220.4" fill="#fff" stroke="#000" stroke-width="1.00" stroke-linejoin="round"/>
<polygon points="549.8,115.2 552.6,115.2 557.5,200.5 554.3,200.5" fill="#fff" stroke="#000" stroke-width="1.00" stroke-linejoin="round"/>
<line x1="545.2" y1="142.6" x2="572.6" y2="142.6" stroke="#000" stroke-width="1.00" stroke-linecap="butt"/>
<line x1="554.0" y1="127.9" x2="568.2" y2="127.9" stroke="#000" stroke-width="1.00" stroke-linecap="butt"/>
<line x1="554.5" y1="132.5" x2="559.5" y2="128.2" stroke="#000" stroke-width="1.00" stroke-linecap="butt"/>
<line x1="555.0" y1="147.0" x2="560.0" y2="142.8" stroke="#000" stroke-width="1.00" stroke-linecap="butt"/>
<polygon points="561.4,125.3 563.4,125.3 563.4,127.8 561.4,127.8" fill="#fff" stroke="#000" stroke-width="1.00" stroke-linejoin="round"/>
<path d="M559.1 122.8 l2.2 -2.800 l2.200 0 l2.200 2.800 l-2.200 2.800 l-2.200 0 Z" fill="#fff" stroke="#000" stroke-width="1.00" stroke-linejoin="round"/>
<polygon points="561.9,139.7 563.9,139.7 563.9,142.2 561.9,142.2" fill="#fff" stroke="#000" stroke-width="1.00" stroke-linejoin="round"/>
<path d="M559.6 137.2 l2.2 -2.800 l2.200 0 l2.200 2.800 l-2.200 2.800 l-2.200 0 Z" fill="#fff" stroke="#000" stroke-width="1.00" stroke-linejoin="round"/>
<line x1="528.3" y1="114.0" x2="569.1" y2="114.5" stroke="#000" stroke-width="1.10" stroke-linecap="butt"/>
<line x1="547.0" y1="115.0" x2="553.0" y2="120.0" stroke="#000" stroke-width="1.00" stroke-linecap="butt"/>
<line x1="558.0" y1="115.0" x2="553.5" y2="120.0" stroke="#000" stroke-width="1.00" stroke-linecap="butt"/>
<circle cx="540.4" cy="112.2" r="1.90" fill="#fff" stroke="#000" stroke-width="1.00"/>
<circle cx="562.6" cy="112.6" r="1.20" fill="#fff" stroke="#000" stroke-width="1.00"/>
<line x1="543.8" y1="78.0" x2="543.8" y2="92.0" stroke="#000" stroke-width="1.00" stroke-linecap="butt"/>
<polygon points="542.9,91.5 544.8,91.5 544.8,110.0 542.9,110.0" fill="#fff" stroke="#000" stroke-width="1.00" stroke-linejoin="round"/>
<path d="M544.5 98.3 L556.5 98.6 L557 101.7 Q562 102.5 562 106 Q561.8 110 557 110.5 L556.8 113.400 L544.5 113.400 Z" fill="#fff" stroke="#000" stroke-width="1.00" stroke-linejoin="round"/>
<polygon points="600.8,200.0 628.3,200.0 628.3,210.4 600.8,210.4" fill="#000" stroke="#000" stroke-width="1.00" stroke-linejoin="round"/>
<line x1="624.0" y1="193.5" x2="654.8" y2="190.6" stroke="#000" stroke-width="1.20" stroke-linecap="butt"/>
<polygon points="597.5,183.3 602.5,183.3 602.8,188.3 621.0,190.8 623.5,191.8 628.3,199.8 598.5,199.8 596.7,189.0" fill="#000" stroke="#000" stroke-width="1.00" stroke-linejoin="round"/>
<line x1="660.0" y1="202.9" x2="693.5" y2="200.0" stroke="#000" stroke-width="1.20" stroke-linecap="butt"/>
<polygon points="635.0,197.3 636.5,197.0 659.0,200.3 661.5,201.3 666.7,210.0 638.0,210.0 635.2,199.0" fill="#000" stroke="#000" stroke-width="1.00" stroke-linejoin="round"/>
<polygon points="688.0,208.2 693.0,208.2 693.0,210.3 688.0,210.3" fill="#fff" stroke="#000" stroke-width="1.00" stroke-linejoin="round"/>
<polygon points="696.7,207.0 701.7,207.0 701.7,210.3 696.7,210.3" fill="#fff" stroke="#000" stroke-width="1.00" stroke-linejoin="round"/>
<polygon points="710.7,206.7 715.7,206.7 715.7,210.3 710.7,210.3" fill="#fff" stroke="#000" stroke-width="1.00" stroke-linejoin="round"/>
<polygon points="770.0,207.3 775.0,207.3 775.0,208.6 770.0,208.6" fill="#fff" stroke="#000" stroke-width="1.00" stroke-linejoin="round"/>
<polygon points="195.5,230.6 265.3,230.6 265.3,269.0 195.5,269.0" fill="#000" stroke="#000" stroke-width="1.00" stroke-linejoin="round"/>
<polygon points="196.0,219.0 226.7,219.0 226.7,231.0 196.0,231.0" fill="#000" stroke="#000" stroke-width="1.00" stroke-linejoin="round"/>
<polygon points="232.5,219.0 265.3,219.0 265.3,231.0 232.5,231.0" fill="#000" stroke="#000" stroke-width="1.00" stroke-linejoin="round"/>
<polygon points="600.0,222.7 677.2,222.7 677.2,267.5 600.0,267.5" fill="#000" stroke="#000" stroke-width="1.00" stroke-linejoin="round"/>
<polygon points="600.0,209.0 628.3,209.0 628.3,223.0 600.0,223.0" fill="#000" stroke="#000" stroke-width="1.00" stroke-linejoin="round"/>
<polygon points="636.5,207.0 677.2,207.0 677.2,223.0 636.5,223.0" fill="#000" stroke="#000" stroke-width="1.00" stroke-linejoin="round"/>
<polygon points="636.5,207.0 664.0,207.0 677.2,212.0 677.2,214.0 636.5,214.0" fill="#000" stroke="#000" stroke-width="1.00" stroke-linejoin="round"/>
<polygon points="546.0,185.8 594.0,185.8 594.0,191.7 546.0,191.7" fill="#000" stroke="#000" stroke-width="1.00" stroke-linejoin="round"/>
<line x1="32.0" y1="221.7" x2="538.0" y2="221.7" stroke="#000" stroke-width="3.20" stroke-linecap="butt"/>
<line x1="677.0" y1="212.2" x2="799.0" y2="212.2" stroke="#000" stroke-width="3.00" stroke-linecap="butt"/>
<line x1="533.0" y1="212.2" x2="600.0" y2="212.2" stroke="#000" stroke-width="1.60" stroke-linecap="butt"/></g>
</svg>
<div class="t" id="title">Duquesne</div>
<div class="t" id="h1">Armament</div>
<div class="t" id="h2">Armour</div>
<div class="t r" style="right:428.5px;top:364.7px">8 203 mm guns in twin turret</div>
<div class="t r" style="right:428.5px;top:378.7px">8 75 mm guns</div>
<div class="t r" style="right:428.5px;top:392.6px">8 37 mm AA guns</div>
<div class="t r" style="right:430.4px;top:406.5px">12 torpedo tubes</div>
<div class="t r" style="right:37.6px;top:363.3px">Magazines: 30 mm</div>
<div class="t r" style="right:37.6px;top:375px">Tower: 30 mm</div>
<div class="t r" style="right:37.2px;top:386.8px">Turrets: 30 mm</div>
<div class="t r" style="right:36.5px;top:398.3px">Deck: 30 mm</div>
</body></html>
